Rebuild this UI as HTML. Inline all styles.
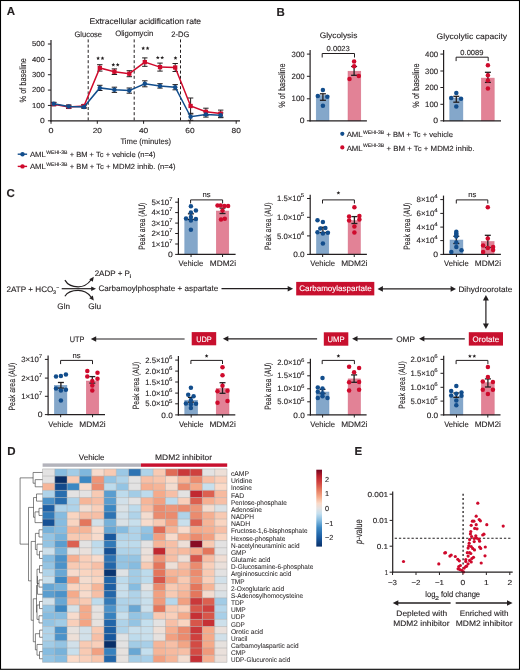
<!DOCTYPE html>
<html><head><meta charset="utf-8"><title>Figure</title>
<style>
html,body{margin:0;padding:0;background:#fff;}
body{width:520px;height:670px;overflow:hidden;font-family:"Liberation Sans", sans-serif;}
svg{display:block;will-change:transform;}
text{stroke:#231f20;stroke-width:0.12px;text-rendering:geometricPrecision;}
text[fill="#ffffff"]{stroke:#ffffff;}
</style></head>
<body>
<svg width="520" height="670" viewBox="0 0 520 670" font-family='"Liberation Sans", sans-serif' fill="#231f20"><text x="6.70" y="14.93" font-size="11.5" font-weight="bold">A</text>
<text x="89.45" y="23.80" font-size="8.3" textLength="111.70" lengthAdjust="spacingAndGlyphs">Extracellular acidification rate</text>
<text x="74.45" y="36.70" font-size="7.9" textLength="27.60" lengthAdjust="spacingAndGlyphs">Glucose</text>
<text x="115.15" y="36.00" font-size="7.9" textLength="38.20" lengthAdjust="spacingAndGlyphs">Oligomycin</text>
<text x="171.35" y="36.50" font-size="7.9" textLength="18.00" lengthAdjust="spacingAndGlyphs">2-DG</text>
<line x1="51.00" y1="40.00" x2="51.00" y2="121.40" stroke="#231f20" stroke-width="1.2"/>
<line x1="50.40" y1="120.80" x2="240.00" y2="120.80" stroke="#231f20" stroke-width="1.2"/>
<line x1="47.90" y1="120.80" x2="51.00" y2="120.80" stroke="#231f20" stroke-width="1.0"/>
<text x="40.00" y="123.20" font-size="7.3" textLength="4.75" lengthAdjust="spacingAndGlyphs">0</text>
<line x1="47.90" y1="105.44" x2="51.00" y2="105.44" stroke="#231f20" stroke-width="1.0"/>
<text x="31.90" y="107.84" font-size="7.3" textLength="12.85" lengthAdjust="spacingAndGlyphs">100</text>
<line x1="47.90" y1="90.08" x2="51.00" y2="90.08" stroke="#231f20" stroke-width="1.0"/>
<text x="31.90" y="92.48" font-size="7.3" textLength="12.85" lengthAdjust="spacingAndGlyphs">200</text>
<line x1="47.90" y1="74.72" x2="51.00" y2="74.72" stroke="#231f20" stroke-width="1.0"/>
<text x="31.90" y="77.12" font-size="7.3" textLength="12.85" lengthAdjust="spacingAndGlyphs">300</text>
<line x1="47.90" y1="59.36" x2="51.00" y2="59.36" stroke="#231f20" stroke-width="1.0"/>
<text x="31.90" y="61.76" font-size="7.3" textLength="12.85" lengthAdjust="spacingAndGlyphs">400</text>
<line x1="47.90" y1="44.00" x2="51.00" y2="44.00" stroke="#231f20" stroke-width="1.0"/>
<text x="31.90" y="46.40" font-size="7.3" textLength="12.85" lengthAdjust="spacingAndGlyphs">500</text>
<line x1="51.00" y1="120.80" x2="51.00" y2="123.80" stroke="#231f20" stroke-width="1.0"/>
<text x="48.50" y="133.00" font-size="7.3" textLength="5.00" lengthAdjust="spacingAndGlyphs">0</text>
<line x1="97.30" y1="120.80" x2="97.30" y2="123.80" stroke="#231f20" stroke-width="1.0"/>
<text x="92.65" y="133.00" font-size="7.3" textLength="9.30" lengthAdjust="spacingAndGlyphs">20</text>
<line x1="143.60" y1="120.80" x2="143.60" y2="123.80" stroke="#231f20" stroke-width="1.0"/>
<text x="138.95" y="133.00" font-size="7.3" textLength="9.30" lengthAdjust="spacingAndGlyphs">40</text>
<line x1="189.90" y1="120.80" x2="189.90" y2="123.80" stroke="#231f20" stroke-width="1.0"/>
<text x="185.25" y="133.00" font-size="7.3" textLength="9.30" lengthAdjust="spacingAndGlyphs">60</text>
<line x1="236.20" y1="120.80" x2="236.20" y2="123.80" stroke="#231f20" stroke-width="1.0"/>
<text x="231.55" y="133.00" font-size="7.3" textLength="9.30" lengthAdjust="spacingAndGlyphs">80</text>
<text x="120.45" y="144.20" font-size="8.0" textLength="50.70" lengthAdjust="spacingAndGlyphs">Time (minutes)</text>
<text transform="translate(26.30,80.30) rotate(-90)" x="0" y="0" font-size="9.2" text-anchor="middle" textLength="44.30" lengthAdjust="spacingAndGlyphs">% of baseline</text>
<line x1="88.20" y1="39.40" x2="88.20" y2="120.80" stroke="#231f20" stroke-width="1.0" stroke-dasharray="3,2.2"/>
<line x1="134.20" y1="39.40" x2="134.20" y2="120.80" stroke="#231f20" stroke-width="1.0" stroke-dasharray="3,2.2"/>
<line x1="180.50" y1="39.40" x2="180.50" y2="120.80" stroke="#231f20" stroke-width="1.0" stroke-dasharray="3,2.2"/>
<line x1="53.70" y1="102.70" x2="53.70" y2="105.70" stroke="#231f20" stroke-width="1.0"/>
<line x1="51.00" y1="102.70" x2="56.40" y2="102.70" stroke="#231f20" stroke-width="1.0"/>
<line x1="51.00" y1="105.70" x2="56.40" y2="105.70" stroke="#231f20" stroke-width="1.0"/>
<line x1="68.70" y1="105.40" x2="68.70" y2="108.40" stroke="#231f20" stroke-width="1.0"/>
<line x1="66.00" y1="105.40" x2="71.40" y2="105.40" stroke="#231f20" stroke-width="1.0"/>
<line x1="66.00" y1="108.40" x2="71.40" y2="108.40" stroke="#231f20" stroke-width="1.0"/>
<line x1="84.00" y1="104.50" x2="84.00" y2="107.50" stroke="#231f20" stroke-width="1.0"/>
<line x1="81.30" y1="104.50" x2="86.70" y2="104.50" stroke="#231f20" stroke-width="1.0"/>
<line x1="81.30" y1="107.50" x2="86.70" y2="107.50" stroke="#231f20" stroke-width="1.0"/>
<line x1="99.80" y1="64.70" x2="99.80" y2="71.10" stroke="#231f20" stroke-width="1.0"/>
<line x1="97.10" y1="64.70" x2="102.50" y2="64.70" stroke="#231f20" stroke-width="1.0"/>
<line x1="97.10" y1="71.10" x2="102.50" y2="71.10" stroke="#231f20" stroke-width="1.0"/>
<line x1="114.40" y1="68.90" x2="114.40" y2="74.50" stroke="#231f20" stroke-width="1.0"/>
<line x1="111.70" y1="68.90" x2="117.10" y2="68.90" stroke="#231f20" stroke-width="1.0"/>
<line x1="111.70" y1="74.50" x2="117.10" y2="74.50" stroke="#231f20" stroke-width="1.0"/>
<line x1="129.30" y1="70.70" x2="129.30" y2="76.70" stroke="#231f20" stroke-width="1.0"/>
<line x1="126.60" y1="70.70" x2="132.00" y2="70.70" stroke="#231f20" stroke-width="1.0"/>
<line x1="126.60" y1="76.70" x2="132.00" y2="76.70" stroke="#231f20" stroke-width="1.0"/>
<line x1="144.80" y1="57.90" x2="144.80" y2="66.30" stroke="#231f20" stroke-width="1.0"/>
<line x1="142.10" y1="57.90" x2="147.50" y2="57.90" stroke="#231f20" stroke-width="1.0"/>
<line x1="142.10" y1="66.30" x2="147.50" y2="66.30" stroke="#231f20" stroke-width="1.0"/>
<line x1="160.00" y1="63.10" x2="160.00" y2="71.10" stroke="#231f20" stroke-width="1.0"/>
<line x1="157.30" y1="63.10" x2="162.70" y2="63.10" stroke="#231f20" stroke-width="1.0"/>
<line x1="157.30" y1="71.10" x2="162.70" y2="71.10" stroke="#231f20" stroke-width="1.0"/>
<line x1="175.20" y1="63.50" x2="175.20" y2="71.50" stroke="#231f20" stroke-width="1.0"/>
<line x1="172.50" y1="63.50" x2="177.90" y2="63.50" stroke="#231f20" stroke-width="1.0"/>
<line x1="172.50" y1="71.50" x2="177.90" y2="71.50" stroke="#231f20" stroke-width="1.0"/>
<line x1="190.60" y1="98.00" x2="190.60" y2="114.00" stroke="#231f20" stroke-width="1.0"/>
<line x1="187.90" y1="98.00" x2="193.30" y2="98.00" stroke="#231f20" stroke-width="1.0"/>
<line x1="187.90" y1="114.00" x2="193.30" y2="114.00" stroke="#231f20" stroke-width="1.0"/>
<line x1="205.90" y1="108.20" x2="205.90" y2="115.40" stroke="#231f20" stroke-width="1.0"/>
<line x1="203.20" y1="108.20" x2="208.60" y2="108.20" stroke="#231f20" stroke-width="1.0"/>
<line x1="203.20" y1="115.40" x2="208.60" y2="115.40" stroke="#231f20" stroke-width="1.0"/>
<line x1="220.70" y1="110.10" x2="220.70" y2="117.10" stroke="#231f20" stroke-width="1.0"/>
<line x1="218.00" y1="110.10" x2="223.40" y2="110.10" stroke="#231f20" stroke-width="1.0"/>
<line x1="218.00" y1="117.10" x2="223.40" y2="117.10" stroke="#231f20" stroke-width="1.0"/>
<line x1="53.70" y1="102.30" x2="53.70" y2="105.30" stroke="#231f20" stroke-width="1.0"/>
<line x1="51.00" y1="102.30" x2="56.40" y2="102.30" stroke="#231f20" stroke-width="1.0"/>
<line x1="51.00" y1="105.30" x2="56.40" y2="105.30" stroke="#231f20" stroke-width="1.0"/>
<line x1="68.70" y1="105.00" x2="68.70" y2="108.00" stroke="#231f20" stroke-width="1.0"/>
<line x1="66.00" y1="105.00" x2="71.40" y2="105.00" stroke="#231f20" stroke-width="1.0"/>
<line x1="66.00" y1="108.00" x2="71.40" y2="108.00" stroke="#231f20" stroke-width="1.0"/>
<line x1="84.00" y1="105.40" x2="84.00" y2="108.40" stroke="#231f20" stroke-width="1.0"/>
<line x1="81.30" y1="105.40" x2="86.70" y2="105.40" stroke="#231f20" stroke-width="1.0"/>
<line x1="81.30" y1="108.40" x2="86.70" y2="108.40" stroke="#231f20" stroke-width="1.0"/>
<line x1="99.80" y1="85.30" x2="99.80" y2="90.50" stroke="#231f20" stroke-width="1.0"/>
<line x1="97.10" y1="85.30" x2="102.50" y2="85.30" stroke="#231f20" stroke-width="1.0"/>
<line x1="97.10" y1="90.50" x2="102.50" y2="90.50" stroke="#231f20" stroke-width="1.0"/>
<line x1="114.40" y1="87.20" x2="114.40" y2="92.40" stroke="#231f20" stroke-width="1.0"/>
<line x1="111.70" y1="87.20" x2="117.10" y2="87.20" stroke="#231f20" stroke-width="1.0"/>
<line x1="111.70" y1="92.40" x2="117.10" y2="92.40" stroke="#231f20" stroke-width="1.0"/>
<line x1="129.30" y1="88.00" x2="129.30" y2="93.20" stroke="#231f20" stroke-width="1.0"/>
<line x1="126.60" y1="88.00" x2="132.00" y2="88.00" stroke="#231f20" stroke-width="1.0"/>
<line x1="126.60" y1="93.20" x2="132.00" y2="93.20" stroke="#231f20" stroke-width="1.0"/>
<line x1="144.80" y1="80.80" x2="144.80" y2="86.80" stroke="#231f20" stroke-width="1.0"/>
<line x1="142.10" y1="80.80" x2="147.50" y2="80.80" stroke="#231f20" stroke-width="1.0"/>
<line x1="142.10" y1="86.80" x2="147.50" y2="86.80" stroke="#231f20" stroke-width="1.0"/>
<line x1="160.00" y1="83.70" x2="160.00" y2="88.10" stroke="#231f20" stroke-width="1.0"/>
<line x1="157.30" y1="83.70" x2="162.70" y2="83.70" stroke="#231f20" stroke-width="1.0"/>
<line x1="157.30" y1="88.10" x2="162.70" y2="88.10" stroke="#231f20" stroke-width="1.0"/>
<line x1="175.20" y1="84.60" x2="175.20" y2="89.80" stroke="#231f20" stroke-width="1.0"/>
<line x1="172.50" y1="84.60" x2="177.90" y2="84.60" stroke="#231f20" stroke-width="1.0"/>
<line x1="172.50" y1="89.80" x2="177.90" y2="89.80" stroke="#231f20" stroke-width="1.0"/>
<line x1="190.60" y1="113.30" x2="190.60" y2="120.30" stroke="#231f20" stroke-width="1.0"/>
<line x1="187.90" y1="113.30" x2="193.30" y2="113.30" stroke="#231f20" stroke-width="1.0"/>
<line x1="187.90" y1="120.30" x2="193.30" y2="120.30" stroke="#231f20" stroke-width="1.0"/>
<line x1="205.90" y1="111.90" x2="205.90" y2="117.10" stroke="#231f20" stroke-width="1.0"/>
<line x1="203.20" y1="111.90" x2="208.60" y2="111.90" stroke="#231f20" stroke-width="1.0"/>
<line x1="203.20" y1="117.10" x2="208.60" y2="117.10" stroke="#231f20" stroke-width="1.0"/>
<line x1="220.70" y1="112.90" x2="220.70" y2="117.70" stroke="#231f20" stroke-width="1.0"/>
<line x1="218.00" y1="112.90" x2="223.40" y2="112.90" stroke="#231f20" stroke-width="1.0"/>
<line x1="218.00" y1="117.70" x2="223.40" y2="117.70" stroke="#231f20" stroke-width="1.0"/>
<path d="M53.70,104.20 L68.70,106.90 L84.00,106.00 L99.80,67.90 L114.40,71.70 L129.30,73.70 L144.80,62.10 L160.00,67.10 L175.20,67.50 L190.60,106.00 L205.90,111.80 L220.70,113.60" stroke="#cf0a2c" stroke-width="1.5" fill="none"/>
<rect x="51.55" y="102.05" width="4.30" height="4.30" fill="#cf0a2c"/>
<rect x="66.55" y="104.75" width="4.30" height="4.30" fill="#cf0a2c"/>
<rect x="81.85" y="103.85" width="4.30" height="4.30" fill="#cf0a2c"/>
<rect x="97.65" y="65.75" width="4.30" height="4.30" fill="#cf0a2c"/>
<rect x="112.25" y="69.55" width="4.30" height="4.30" fill="#cf0a2c"/>
<rect x="127.15" y="71.55" width="4.30" height="4.30" fill="#cf0a2c"/>
<rect x="142.65" y="59.95" width="4.30" height="4.30" fill="#cf0a2c"/>
<rect x="157.85" y="64.95" width="4.30" height="4.30" fill="#cf0a2c"/>
<rect x="173.05" y="65.35" width="4.30" height="4.30" fill="#cf0a2c"/>
<rect x="188.45" y="103.85" width="4.30" height="4.30" fill="#cf0a2c"/>
<rect x="203.75" y="109.65" width="4.30" height="4.30" fill="#cf0a2c"/>
<rect x="218.55" y="111.45" width="4.30" height="4.30" fill="#cf0a2c"/>
<path d="M53.70,103.80 L68.70,106.50 L84.00,106.90 L99.80,87.90 L114.40,89.80 L129.30,90.60 L144.80,83.80 L160.00,85.90 L175.20,87.20 L190.60,116.80 L205.90,114.50 L220.70,115.30" stroke="#124d8c" stroke-width="1.5" fill="none"/>
<circle cx="53.70" cy="103.80" r="2.25" fill="#124d8c"/>
<circle cx="68.70" cy="106.50" r="2.25" fill="#124d8c"/>
<circle cx="84.00" cy="106.90" r="2.25" fill="#124d8c"/>
<circle cx="99.80" cy="87.90" r="2.25" fill="#124d8c"/>
<circle cx="114.40" cy="89.80" r="2.25" fill="#124d8c"/>
<circle cx="129.30" cy="90.60" r="2.25" fill="#124d8c"/>
<circle cx="144.80" cy="83.80" r="2.25" fill="#124d8c"/>
<circle cx="160.00" cy="85.90" r="2.25" fill="#124d8c"/>
<circle cx="175.20" cy="87.20" r="2.25" fill="#124d8c"/>
<circle cx="190.60" cy="116.80" r="2.25" fill="#124d8c"/>
<circle cx="205.90" cy="114.50" r="2.25" fill="#124d8c"/>
<circle cx="220.70" cy="115.30" r="2.25" fill="#124d8c"/>
<polygon points="98.10,56.30 98.63,57.57 100.00,57.68 98.96,58.58 99.28,59.92 98.10,59.20 96.92,59.92 97.24,58.58 96.20,57.68 97.57,57.57" fill="#231f20"/>
<polygon points="102.50,56.30 103.03,57.57 104.40,57.68 103.36,58.58 103.68,59.92 102.50,59.20 101.32,59.92 101.64,58.58 100.60,57.68 101.97,57.57" fill="#231f20"/>
<polygon points="113.30,62.80 113.83,64.07 115.20,64.18 114.16,65.08 114.48,66.42 113.30,65.70 112.12,66.42 112.44,65.08 111.40,64.18 112.77,64.07" fill="#231f20"/>
<polygon points="117.70,62.80 118.23,64.07 119.60,64.18 118.56,65.08 118.88,66.42 117.70,65.70 116.52,66.42 116.84,65.08 115.80,64.18 117.17,64.07" fill="#231f20"/>
<polygon points="143.20,46.30 143.73,47.57 145.10,47.68 144.06,48.58 144.38,49.92 143.20,49.20 142.02,49.92 142.34,48.58 141.30,47.68 142.67,47.57" fill="#231f20"/>
<polygon points="147.60,46.30 148.13,47.57 149.50,47.68 148.46,48.58 148.78,49.92 147.60,49.20 146.42,49.92 146.74,48.58 145.70,47.68 147.07,47.57" fill="#231f20"/>
<polygon points="157.80,55.70 158.33,56.97 159.70,57.08 158.66,57.98 158.98,59.32 157.80,58.60 156.62,59.32 156.94,57.98 155.90,57.08 157.27,56.97" fill="#231f20"/>
<polygon points="162.20,55.70 162.73,56.97 164.10,57.08 163.06,57.98 163.38,59.32 162.20,58.60 161.02,59.32 161.34,57.98 160.30,57.08 161.67,56.97" fill="#231f20"/>
<polygon points="175.50,56.10 176.03,57.37 177.40,57.48 176.36,58.38 176.68,59.72 175.50,59.00 174.32,59.72 174.64,58.38 173.60,57.48 174.97,57.37" fill="#231f20"/>
<line x1="17.70" y1="154.20" x2="27.10" y2="154.20" stroke="#124d8c" stroke-width="1.4"/>
<circle cx="22.50" cy="154.20" r="2.2" fill="#124d8c"/>
<text x="29.90" y="157.20" font-size="7.4" textLength="16.0" lengthAdjust="spacingAndGlyphs">AML</text>
<text x="46.20" y="154.00" font-size="5.2" textLength="21.2" lengthAdjust="spacingAndGlyphs">WEHI-3B</text>
<text x="67.60" y="157.20" font-size="7.4" textLength="88.00" lengthAdjust="spacingAndGlyphs" xml:space="preserve"> + BM + Tc + vehicle (n=4)</text>
<line x1="17.70" y1="166.40" x2="27.10" y2="166.40" stroke="#cf0a2c" stroke-width="1.4"/>
<circle cx="22.50" cy="166.40" r="2.2" fill="#cf0a2c"/>
<text x="29.90" y="169.40" font-size="7.4" textLength="16.0" lengthAdjust="spacingAndGlyphs">AML</text>
<text x="46.20" y="166.20" font-size="5.2" textLength="21.2" lengthAdjust="spacingAndGlyphs">WEHI-3B</text>
<text x="67.60" y="169.40" font-size="7.4" textLength="108.00" lengthAdjust="spacingAndGlyphs" xml:space="preserve"> + BM + Tc + MDM2 inhib. (n=4)</text>
<text x="276.60" y="15.54" font-size="11.5" font-weight="bold">B</text>
<text x="319.65" y="38.10" font-size="8.0" textLength="37.70" lengthAdjust="spacingAndGlyphs">Glycolysis</text>
<text x="436.55" y="38.60" font-size="8.0" textLength="70.60" lengthAdjust="spacingAndGlyphs">Glycolytic capacity</text>
<rect x="316.20" y="95.50" width="12.80" height="25.30" fill="#84a7ca" stroke="#7399c2" stroke-width="0.5"/>
<rect x="348.00" y="71.20" width="12.80" height="49.60" fill="#e28296" stroke="#d86f86" stroke-width="0.5"/>
<line x1="310.10" y1="50.10" x2="310.10" y2="121.40" stroke="#231f20" stroke-width="1.2"/>
<line x1="309.50" y1="120.80" x2="366.90" y2="120.80" stroke="#231f20" stroke-width="1.2"/>
<line x1="306.90" y1="54.10" x2="310.10" y2="54.10" stroke="#231f20" stroke-width="1.0"/>
<text x="291.55" y="56.70" font-size="7.8" textLength="13.00" lengthAdjust="spacingAndGlyphs">300</text>
<line x1="306.90" y1="76.30" x2="310.10" y2="76.30" stroke="#231f20" stroke-width="1.0"/>
<text x="291.55" y="78.90" font-size="7.8" textLength="13.00" lengthAdjust="spacingAndGlyphs">200</text>
<line x1="306.90" y1="98.80" x2="310.10" y2="98.80" stroke="#231f20" stroke-width="1.0"/>
<text x="291.55" y="101.40" font-size="7.8" textLength="13.00" lengthAdjust="spacingAndGlyphs">100</text>
<line x1="306.90" y1="120.80" x2="310.10" y2="120.80" stroke="#231f20" stroke-width="1.0"/>
<text x="299.75" y="123.40" font-size="7.8" textLength="4.80" lengthAdjust="spacingAndGlyphs">0</text>
<line x1="322.90" y1="93.80" x2="322.90" y2="100.30" stroke="#231f20" stroke-width="1.3"/>
<line x1="319.90" y1="93.80" x2="325.90" y2="93.80" stroke="#231f20" stroke-width="1.3"/>
<line x1="319.90" y1="100.30" x2="325.90" y2="100.30" stroke="#231f20" stroke-width="1.3"/>
<line x1="354.10" y1="66.50" x2="354.10" y2="75.30" stroke="#231f20" stroke-width="1.3"/>
<line x1="351.10" y1="66.50" x2="357.10" y2="66.50" stroke="#231f20" stroke-width="1.3"/>
<line x1="351.10" y1="75.30" x2="357.10" y2="75.30" stroke="#231f20" stroke-width="1.3"/>
<circle cx="322.90" cy="90.10" r="2.25" fill="#124d8c"/>
<circle cx="317.80" cy="96.10" r="2.25" fill="#124d8c"/>
<circle cx="327.30" cy="96.80" r="2.25" fill="#124d8c"/>
<circle cx="322.90" cy="105.70" r="2.25" fill="#124d8c"/>
<circle cx="354.10" cy="61.50" r="2.25" fill="#cf0a2c"/>
<circle cx="354.10" cy="66.20" r="2.25" fill="#cf0a2c"/>
<circle cx="349.50" cy="79.00" r="2.25" fill="#cf0a2c"/>
<circle cx="358.80" cy="76.10" r="2.25" fill="#cf0a2c"/>
<path d="M322.20,57.50 V53.50 H354.50 V57.50" stroke="#231f20" stroke-width="1.0" fill="none"/>
<text x="326.55" y="50.80" font-size="7.3" textLength="23.30" lengthAdjust="spacingAndGlyphs">0.0023</text>
<text transform="translate(284.80,85.65) rotate(-90)" x="0" y="0" font-size="9.2" text-anchor="middle" textLength="44.30" lengthAdjust="spacingAndGlyphs">% of baseline</text>
<rect x="449.80" y="98.00" width="13.10" height="22.80" fill="#84a7ca" stroke="#7399c2" stroke-width="0.5"/>
<rect x="481.40" y="78.10" width="12.80" height="42.70" fill="#e28296" stroke="#d86f86" stroke-width="0.5"/>
<line x1="443.60" y1="50.10" x2="443.60" y2="121.40" stroke="#231f20" stroke-width="1.2"/>
<line x1="443.00" y1="120.80" x2="501.00" y2="120.80" stroke="#231f20" stroke-width="1.2"/>
<line x1="440.40" y1="54.10" x2="443.60" y2="54.10" stroke="#231f20" stroke-width="1.0"/>
<text x="425.05" y="56.70" font-size="7.8" textLength="13.00" lengthAdjust="spacingAndGlyphs">400</text>
<line x1="440.40" y1="71.00" x2="443.60" y2="71.00" stroke="#231f20" stroke-width="1.0"/>
<text x="425.05" y="73.60" font-size="7.8" textLength="13.00" lengthAdjust="spacingAndGlyphs">300</text>
<line x1="440.40" y1="87.50" x2="443.60" y2="87.50" stroke="#231f20" stroke-width="1.0"/>
<text x="425.05" y="90.10" font-size="7.8" textLength="13.00" lengthAdjust="spacingAndGlyphs">200</text>
<line x1="440.40" y1="104.30" x2="443.60" y2="104.30" stroke="#231f20" stroke-width="1.0"/>
<text x="425.05" y="106.90" font-size="7.8" textLength="13.00" lengthAdjust="spacingAndGlyphs">100</text>
<line x1="440.40" y1="120.80" x2="443.60" y2="120.80" stroke="#231f20" stroke-width="1.0"/>
<text x="433.25" y="123.40" font-size="7.8" textLength="4.80" lengthAdjust="spacingAndGlyphs">0</text>
<line x1="456.30" y1="96.30" x2="456.30" y2="102.20" stroke="#231f20" stroke-width="1.3"/>
<line x1="453.30" y1="96.30" x2="459.30" y2="96.30" stroke="#231f20" stroke-width="1.3"/>
<line x1="453.30" y1="102.20" x2="459.30" y2="102.20" stroke="#231f20" stroke-width="1.3"/>
<line x1="487.90" y1="72.30" x2="487.90" y2="82.40" stroke="#231f20" stroke-width="1.3"/>
<line x1="484.90" y1="72.30" x2="490.90" y2="72.30" stroke="#231f20" stroke-width="1.3"/>
<line x1="484.90" y1="82.40" x2="490.90" y2="82.40" stroke="#231f20" stroke-width="1.3"/>
<circle cx="456.30" cy="92.90" r="2.25" fill="#124d8c"/>
<circle cx="451.20" cy="98.10" r="2.25" fill="#124d8c"/>
<circle cx="461.00" cy="98.80" r="2.25" fill="#124d8c"/>
<circle cx="456.30" cy="106.60" r="2.25" fill="#124d8c"/>
<circle cx="487.90" cy="65.20" r="2.25" fill="#cf0a2c"/>
<circle cx="487.90" cy="75.30" r="2.25" fill="#cf0a2c"/>
<circle cx="487.90" cy="80.60" r="2.25" fill="#cf0a2c"/>
<circle cx="487.90" cy="88.50" r="2.25" fill="#cf0a2c"/>
<path d="M456.10,61.10 V57.20 H488.20 V61.10" stroke="#231f20" stroke-width="1.0" fill="none"/>
<text x="460.35" y="54.60" font-size="7.3" textLength="23.10" lengthAdjust="spacingAndGlyphs">0.0089</text>
<text transform="translate(419.20,85.60) rotate(-90)" x="0" y="0" font-size="9.2" text-anchor="middle" textLength="44.20" lengthAdjust="spacingAndGlyphs">% of baseline</text>
<circle cx="342.30" cy="133.80" r="2.1" fill="#124d8c"/>
<text x="346.70" y="136.90" font-size="7.4" textLength="16.0" lengthAdjust="spacingAndGlyphs">AML</text>
<text x="363.00" y="133.70" font-size="5.2" textLength="21.2" lengthAdjust="spacingAndGlyphs">WEHI-3B</text>
<text x="384.40" y="136.90" font-size="7.4" textLength="68.50" lengthAdjust="spacingAndGlyphs" xml:space="preserve"> + BM + Tc + vehicle</text>
<circle cx="342.30" cy="147.40" r="2.1" fill="#cf0a2c"/>
<text x="346.70" y="150.50" font-size="7.4" textLength="16.0" lengthAdjust="spacingAndGlyphs">AML</text>
<text x="363.00" y="147.30" font-size="5.2" textLength="21.2" lengthAdjust="spacingAndGlyphs">WEHI-3B</text>
<text x="384.40" y="150.50" font-size="7.4" textLength="90.20" lengthAdjust="spacingAndGlyphs" xml:space="preserve"> + BM + Tc + MDM2 inhib.</text>
<text x="6.60" y="197.13" font-size="11.5" font-weight="bold">C</text>
<rect x="184.80" y="219.40" width="12.50" height="35.00" fill="#84a7ca" stroke="#7399c2" stroke-width="0.5"/>
<rect x="216.30" y="211.00" width="12.50" height="43.40" fill="#e28296" stroke="#d86f86" stroke-width="0.5"/>
<line x1="178.40" y1="198.00" x2="178.40" y2="255.00" stroke="#231f20" stroke-width="1.2"/>
<line x1="177.80" y1="254.40" x2="235.60" y2="254.40" stroke="#231f20" stroke-width="1.2"/>
<line x1="175.20" y1="202.20" x2="178.40" y2="202.20" stroke="#231f20" stroke-width="1.0"/>
<text x="151.45" y="204.80" font-size="7.8" textLength="17.70" lengthAdjust="spacingAndGlyphs">5×10</text>
<text x="169.05" y="201.00" font-size="5.4" textLength="3.40" lengthAdjust="spacingAndGlyphs">7</text>
<line x1="175.20" y1="212.60" x2="178.40" y2="212.60" stroke="#231f20" stroke-width="1.0"/>
<text x="151.45" y="215.20" font-size="7.8" textLength="17.70" lengthAdjust="spacingAndGlyphs">4×10</text>
<text x="169.05" y="211.40" font-size="5.4" textLength="3.40" lengthAdjust="spacingAndGlyphs">7</text>
<line x1="175.20" y1="223.10" x2="178.40" y2="223.10" stroke="#231f20" stroke-width="1.0"/>
<text x="151.45" y="225.70" font-size="7.8" textLength="17.70" lengthAdjust="spacingAndGlyphs">3×10</text>
<text x="169.05" y="221.90" font-size="5.4" textLength="3.40" lengthAdjust="spacingAndGlyphs">7</text>
<line x1="175.20" y1="233.50" x2="178.40" y2="233.50" stroke="#231f20" stroke-width="1.0"/>
<text x="151.45" y="236.10" font-size="7.8" textLength="17.70" lengthAdjust="spacingAndGlyphs">2×10</text>
<text x="169.05" y="232.30" font-size="5.4" textLength="3.40" lengthAdjust="spacingAndGlyphs">7</text>
<line x1="175.20" y1="244.00" x2="178.40" y2="244.00" stroke="#231f20" stroke-width="1.0"/>
<text x="151.45" y="246.60" font-size="7.8" textLength="17.70" lengthAdjust="spacingAndGlyphs">1×10</text>
<text x="169.05" y="242.80" font-size="5.4" textLength="3.40" lengthAdjust="spacingAndGlyphs">7</text>
<line x1="175.20" y1="254.40" x2="178.40" y2="254.40" stroke="#231f20" stroke-width="1.0"/>
<text x="168.05" y="257.00" font-size="7.8" textLength="4.80" lengthAdjust="spacingAndGlyphs">0</text>
<line x1="191.05" y1="254.40" x2="191.05" y2="257.00" stroke="#231f20" stroke-width="1.0"/>
<line x1="222.55" y1="254.40" x2="222.55" y2="257.00" stroke="#231f20" stroke-width="1.0"/>
<line x1="190.90" y1="213.80" x2="190.90" y2="219.40" stroke="#231f20" stroke-width="1.3"/>
<line x1="187.90" y1="213.80" x2="193.90" y2="213.80" stroke="#231f20" stroke-width="1.3"/>
<line x1="187.90" y1="219.40" x2="193.90" y2="219.40" stroke="#231f20" stroke-width="1.3"/>
<line x1="222.50" y1="208.10" x2="222.50" y2="213.50" stroke="#231f20" stroke-width="1.3"/>
<line x1="219.50" y1="208.10" x2="225.50" y2="208.10" stroke="#231f20" stroke-width="1.3"/>
<line x1="219.50" y1="213.50" x2="225.50" y2="213.50" stroke="#231f20" stroke-width="1.3"/>
<circle cx="190.90" cy="206.30" r="2.25" fill="#124d8c"/>
<circle cx="195.90" cy="210.60" r="2.25" fill="#124d8c"/>
<circle cx="190.90" cy="212.50" r="2.25" fill="#124d8c"/>
<circle cx="190.90" cy="216.90" r="2.25" fill="#124d8c"/>
<circle cx="186.00" cy="218.40" r="2.25" fill="#124d8c"/>
<circle cx="195.90" cy="219.00" r="2.25" fill="#124d8c"/>
<circle cx="190.90" cy="220.40" r="2.25" fill="#124d8c"/>
<circle cx="190.90" cy="229.80" r="2.25" fill="#124d8c"/>
<circle cx="217.50" cy="205.60" r="2.25" fill="#cf0a2c"/>
<circle cx="220.60" cy="205.60" r="2.25" fill="#cf0a2c"/>
<circle cx="224.40" cy="205.90" r="2.25" fill="#cf0a2c"/>
<circle cx="228.10" cy="206.00" r="2.25" fill="#cf0a2c"/>
<circle cx="222.50" cy="210.60" r="2.25" fill="#cf0a2c"/>
<circle cx="221.00" cy="219.60" r="2.25" fill="#cf0a2c"/>
<circle cx="224.80" cy="218.80" r="2.25" fill="#cf0a2c"/>
<path d="M190.60,203.40 V199.90 H222.60 V203.40" stroke="#231f20" stroke-width="1.0" fill="none"/>
<text x="202.55" y="196.90" font-size="7.4" textLength="8.10" lengthAdjust="spacingAndGlyphs">ns</text>
<text transform="translate(144.90,226.20) rotate(-90)" x="0" y="0" font-size="9.2" text-anchor="middle" textLength="47.20" lengthAdjust="spacingAndGlyphs">Peak area (AU)</text>
<text x="178.60" y="266.30" font-size="8.0" textLength="24.60" lengthAdjust="spacingAndGlyphs">Vehicle</text>
<text x="209.75" y="266.30" font-size="8.0" textLength="26.30" lengthAdjust="spacingAndGlyphs">MDM2i</text>
<rect x="316.50" y="232.50" width="12.30" height="21.90" fill="#84a7ca" stroke="#7399c2" stroke-width="0.5"/>
<rect x="348.10" y="220.60" width="12.30" height="33.80" fill="#e28296" stroke="#d86f86" stroke-width="0.5"/>
<line x1="310.20" y1="194.80" x2="310.20" y2="255.00" stroke="#231f20" stroke-width="1.2"/>
<line x1="309.60" y1="254.40" x2="366.90" y2="254.40" stroke="#231f20" stroke-width="1.2"/>
<line x1="307.00" y1="198.50" x2="310.20" y2="198.50" stroke="#231f20" stroke-width="1.0"/>
<text x="277.05" y="201.10" font-size="7.8" textLength="23.90" lengthAdjust="spacingAndGlyphs">1.5×10</text>
<text x="300.85" y="197.30" font-size="5.4" textLength="3.40" lengthAdjust="spacingAndGlyphs">5</text>
<line x1="307.00" y1="217.30" x2="310.20" y2="217.30" stroke="#231f20" stroke-width="1.0"/>
<text x="277.05" y="219.90" font-size="7.8" textLength="23.90" lengthAdjust="spacingAndGlyphs">1.0×10</text>
<text x="300.85" y="216.10" font-size="5.4" textLength="3.40" lengthAdjust="spacingAndGlyphs">5</text>
<line x1="307.00" y1="235.90" x2="310.20" y2="235.90" stroke="#231f20" stroke-width="1.0"/>
<text x="277.05" y="238.50" font-size="7.8" textLength="23.90" lengthAdjust="spacingAndGlyphs">5.0×10</text>
<text x="300.85" y="234.70" font-size="5.4" textLength="3.40" lengthAdjust="spacingAndGlyphs">4</text>
<line x1="307.00" y1="254.40" x2="310.20" y2="254.40" stroke="#231f20" stroke-width="1.0"/>
<text x="293.15" y="257.00" font-size="7.8" textLength="11.50" lengthAdjust="spacingAndGlyphs">0.0</text>
<line x1="322.65" y1="254.40" x2="322.65" y2="257.00" stroke="#231f20" stroke-width="1.0"/>
<line x1="354.25" y1="254.40" x2="354.25" y2="257.00" stroke="#231f20" stroke-width="1.0"/>
<line x1="322.90" y1="227.30" x2="322.90" y2="232.50" stroke="#231f20" stroke-width="1.3"/>
<line x1="319.90" y1="227.30" x2="325.90" y2="227.30" stroke="#231f20" stroke-width="1.3"/>
<line x1="319.90" y1="232.50" x2="325.90" y2="232.50" stroke="#231f20" stroke-width="1.3"/>
<line x1="354.40" y1="216.60" x2="354.40" y2="223.50" stroke="#231f20" stroke-width="1.3"/>
<line x1="351.40" y1="216.60" x2="357.40" y2="216.60" stroke="#231f20" stroke-width="1.3"/>
<line x1="351.40" y1="223.50" x2="357.40" y2="223.50" stroke="#231f20" stroke-width="1.3"/>
<circle cx="317.50" cy="220.30" r="2.25" fill="#124d8c"/>
<circle cx="322.90" cy="221.90" r="2.25" fill="#124d8c"/>
<circle cx="320.30" cy="228.40" r="2.25" fill="#124d8c"/>
<circle cx="325.40" cy="227.90" r="2.25" fill="#124d8c"/>
<circle cx="317.50" cy="232.30" r="2.25" fill="#124d8c"/>
<circle cx="322.90" cy="233.40" r="2.25" fill="#124d8c"/>
<circle cx="327.90" cy="232.80" r="2.25" fill="#124d8c"/>
<circle cx="322.90" cy="243.40" r="2.25" fill="#124d8c"/>
<circle cx="354.40" cy="207.30" r="2.25" fill="#cf0a2c"/>
<circle cx="349.10" cy="216.60" r="2.25" fill="#cf0a2c"/>
<circle cx="359.40" cy="215.90" r="2.25" fill="#cf0a2c"/>
<circle cx="349.10" cy="220.40" r="2.25" fill="#cf0a2c"/>
<circle cx="359.40" cy="219.60" r="2.25" fill="#cf0a2c"/>
<circle cx="354.40" cy="226.50" r="2.25" fill="#cf0a2c"/>
<circle cx="354.40" cy="232.50" r="2.25" fill="#cf0a2c"/>
<path d="M322.50,203.50 V199.90 H354.40 V203.50" stroke="#231f20" stroke-width="1.0" fill="none"/>
<polygon points="338.40,190.90 338.93,192.17 340.30,192.28 339.26,193.18 339.58,194.52 338.40,193.80 337.22,194.52 337.54,193.18 336.50,192.28 337.87,192.17" fill="#231f20"/>
<text transform="translate(270.60,226.30) rotate(-90)" x="0" y="0" font-size="9.2" text-anchor="middle" textLength="47.50" lengthAdjust="spacingAndGlyphs">Peak area (AU)</text>
<text x="310.30" y="266.30" font-size="8.0" textLength="24.60" lengthAdjust="spacingAndGlyphs">Vehicle</text>
<text x="341.15" y="266.30" font-size="8.0" textLength="26.30" lengthAdjust="spacingAndGlyphs">MDM2i</text>
<rect x="450.00" y="240.00" width="12.90" height="14.40" fill="#84a7ca" stroke="#7399c2" stroke-width="0.5"/>
<rect x="481.30" y="241.50" width="12.80" height="12.90" fill="#e28296" stroke="#d86f86" stroke-width="0.5"/>
<line x1="443.50" y1="195.60" x2="443.50" y2="255.00" stroke="#231f20" stroke-width="1.2"/>
<line x1="442.90" y1="254.40" x2="500.90" y2="254.40" stroke="#231f20" stroke-width="1.2"/>
<line x1="440.30" y1="199.60" x2="443.50" y2="199.60" stroke="#231f20" stroke-width="1.0"/>
<text x="416.55" y="202.20" font-size="7.8" textLength="17.70" lengthAdjust="spacingAndGlyphs">8×10</text>
<text x="434.15" y="198.40" font-size="5.4" textLength="3.40" lengthAdjust="spacingAndGlyphs">4</text>
<line x1="440.30" y1="213.40" x2="443.50" y2="213.40" stroke="#231f20" stroke-width="1.0"/>
<text x="416.55" y="216.00" font-size="7.8" textLength="17.70" lengthAdjust="spacingAndGlyphs">6×10</text>
<text x="434.15" y="212.20" font-size="5.4" textLength="3.40" lengthAdjust="spacingAndGlyphs">4</text>
<line x1="440.30" y1="227.10" x2="443.50" y2="227.10" stroke="#231f20" stroke-width="1.0"/>
<text x="416.55" y="229.70" font-size="7.8" textLength="17.70" lengthAdjust="spacingAndGlyphs">4×10</text>
<text x="434.15" y="225.90" font-size="5.4" textLength="3.40" lengthAdjust="spacingAndGlyphs">4</text>
<line x1="440.30" y1="240.60" x2="443.50" y2="240.60" stroke="#231f20" stroke-width="1.0"/>
<text x="416.55" y="243.20" font-size="7.8" textLength="17.70" lengthAdjust="spacingAndGlyphs">4×10</text>
<text x="434.15" y="239.40" font-size="5.4" textLength="3.40" lengthAdjust="spacingAndGlyphs">4</text>
<line x1="440.30" y1="254.40" x2="443.50" y2="254.40" stroke="#231f20" stroke-width="1.0"/>
<text x="433.15" y="257.00" font-size="7.8" textLength="4.80" lengthAdjust="spacingAndGlyphs">0</text>
<line x1="456.45" y1="254.40" x2="456.45" y2="257.00" stroke="#231f20" stroke-width="1.0"/>
<line x1="487.70" y1="254.40" x2="487.70" y2="257.00" stroke="#231f20" stroke-width="1.0"/>
<line x1="456.30" y1="236.30" x2="456.30" y2="243.50" stroke="#231f20" stroke-width="1.3"/>
<line x1="453.30" y1="236.30" x2="459.30" y2="236.30" stroke="#231f20" stroke-width="1.3"/>
<line x1="453.30" y1="243.50" x2="459.30" y2="243.50" stroke="#231f20" stroke-width="1.3"/>
<line x1="487.80" y1="235.30" x2="487.80" y2="247.50" stroke="#231f20" stroke-width="1.3"/>
<line x1="484.80" y1="235.30" x2="490.80" y2="235.30" stroke="#231f20" stroke-width="1.3"/>
<line x1="484.80" y1="247.50" x2="490.80" y2="247.50" stroke="#231f20" stroke-width="1.3"/>
<circle cx="456.30" cy="231.80" r="2.25" fill="#124d8c"/>
<circle cx="456.30" cy="233.40" r="2.25" fill="#124d8c"/>
<circle cx="456.30" cy="235.00" r="2.25" fill="#124d8c"/>
<circle cx="456.30" cy="236.40" r="2.25" fill="#124d8c"/>
<circle cx="456.30" cy="242.40" r="2.25" fill="#124d8c"/>
<circle cx="456.30" cy="247.00" r="2.25" fill="#124d8c"/>
<circle cx="451.30" cy="252.10" r="2.25" fill="#124d8c"/>
<circle cx="461.50" cy="250.30" r="2.25" fill="#124d8c"/>
<circle cx="487.80" cy="207.30" r="2.25" fill="#cf0a2c"/>
<circle cx="487.80" cy="238.40" r="2.25" fill="#cf0a2c"/>
<circle cx="483.10" cy="245.60" r="2.25" fill="#cf0a2c"/>
<circle cx="493.10" cy="246.90" r="2.25" fill="#cf0a2c"/>
<circle cx="487.80" cy="248.10" r="2.25" fill="#cf0a2c"/>
<circle cx="493.10" cy="250.00" r="2.25" fill="#cf0a2c"/>
<circle cx="483.10" cy="251.90" r="2.25" fill="#cf0a2c"/>
<path d="M456.30,203.50 V199.90 H487.80 V203.50" stroke="#231f20" stroke-width="1.0" fill="none"/>
<text x="468.25" y="196.90" font-size="7.4" textLength="8.10" lengthAdjust="spacingAndGlyphs">ns</text>
<text transform="translate(410.20,226.20) rotate(-90)" x="0" y="0" font-size="9.2" text-anchor="middle" textLength="47.20" lengthAdjust="spacingAndGlyphs">Peak area (AU)</text>
<text x="444.10" y="266.30" font-size="8.0" textLength="24.60" lengthAdjust="spacingAndGlyphs">Vehicle</text>
<text x="474.75" y="266.30" font-size="8.0" textLength="26.30" lengthAdjust="spacingAndGlyphs">MDM2i</text>
<text x="6.55" y="292.00" font-size="8.0" textLength="46.80" lengthAdjust="spacingAndGlyphs">2ATP + HCO</text>
<text x="53.05" y="294.30" font-size="5.2" textLength="3.00" lengthAdjust="spacingAndGlyphs">3</text>
<text x="56.15" y="289.00" font-size="5.2" textLength="3.00" lengthAdjust="spacingAndGlyphs">−</text>
<line x1="61.70" y1="288.70" x2="92.00" y2="288.70" stroke="#231f20" stroke-width="1.2"/>
<polygon points="96.00,288.70 91.20,291.00 91.20,286.40" fill="#231f20"/>
<path d="M64.9,280.1 C68,285.5 74,286.8 78.2,286.8 C84,286.8 88,284 91.0,280.0" stroke="#231f20" stroke-width="1.2" fill="none"/>
<polygon points="93.80,276.80 92.80,281.80 89.28,279.16" fill="#231f20"/>
<path d="M64.9,296.2 C68,291.0 74,290.4 78.2,290.4 C84,290.4 88,293 91.0,297.0" stroke="#231f20" stroke-width="1.2" fill="none"/>
<polygon points="93.80,300.60 89.28,298.24 92.80,295.60" fill="#231f20"/>
<text x="94.65" y="275.60" font-size="8.0" textLength="35.30" lengthAdjust="spacingAndGlyphs">2ADP + P</text>
<text x="129.55" y="277.60" font-size="5.2" textLength="1.70" lengthAdjust="spacingAndGlyphs">i</text>
<text x="57.35" y="309.40" font-size="8.0" textLength="12.60" lengthAdjust="spacingAndGlyphs">Gln</text>
<text x="88.25" y="309.40" font-size="8.0" textLength="12.90" lengthAdjust="spacingAndGlyphs">Glu</text>
<text x="98.45" y="291.20" font-size="8.0" textLength="119.90" lengthAdjust="spacingAndGlyphs">Carbamoylphosphate + aspartate</text>
<line x1="221.50" y1="288.70" x2="289.00" y2="288.70" stroke="#231f20" stroke-width="1.3"/>
<polygon points="293.10,288.70 287.70,291.50 287.70,285.90" fill="#231f20"/>
<rect x="296.20" y="281.90" width="78.10" height="13.50" fill="#c8102e"/>
<text x="299.25" y="291.00" font-size="8.0" textLength="72.40" lengthAdjust="spacingAndGlyphs" fill="#ffffff">Carbamoylaspartate</text>
<line x1="381.00" y1="288.90" x2="452.50" y2="288.90" stroke="#231f20" stroke-width="1.3"/>
<polygon points="377.50,288.90 382.90,286.10 382.90,291.70" fill="#231f20"/>
<polygon points="456.00,288.90 450.60,291.70 450.60,286.10" fill="#231f20"/>
<text x="458.40" y="291.80" font-size="8.0" textLength="54.05" lengthAdjust="spacingAndGlyphs">Dihydroorotate</text>
<line x1="485.90" y1="298.00" x2="485.90" y2="326.00" stroke="#231f20" stroke-width="1.2"/>
<polygon points="485.90,295.00 488.90,300.40 482.90,300.40" fill="#231f20"/>
<polygon points="485.90,329.00 482.90,323.60 488.90,323.60" fill="#231f20"/>
<rect x="468.80" y="332.20" width="34.20" height="13.40" fill="#c8102e"/>
<text x="472.60" y="341.60" font-size="8.0" textLength="26.60" lengthAdjust="spacingAndGlyphs" fill="#ffffff">Orotate</text>
<line x1="423.00" y1="338.80" x2="464.80" y2="338.80" stroke="#231f20" stroke-width="1.2"/>
<polygon points="419.00,338.80 424.40,336.00 424.40,341.60" fill="#231f20"/>
<text x="396.15" y="341.50" font-size="8.0" textLength="18.90" lengthAdjust="spacingAndGlyphs">OMP</text>
<line x1="355.50" y1="338.80" x2="392.50" y2="338.80" stroke="#231f20" stroke-width="1.2"/>
<polygon points="352.10,338.80 357.50,336.00 357.50,341.60" fill="#231f20"/>
<rect x="323.80" y="332.30" width="24.50" height="13.40" fill="#c8102e"/>
<text x="327.55" y="341.60" font-size="8.0" textLength="17.00" lengthAdjust="spacingAndGlyphs" fill="#ffffff">UMP</text>
<line x1="226.00" y1="338.80" x2="317.10" y2="338.80" stroke="#231f20" stroke-width="1.2"/>
<polygon points="222.90,338.80 228.30,336.00 228.30,341.60" fill="#231f20"/>
<rect x="191.70" y="332.10" width="24.50" height="13.20" fill="#c8102e"/>
<text x="196.20" y="341.50" font-size="8.0" textLength="15.50" lengthAdjust="spacingAndGlyphs" fill="#ffffff">UDP</text>
<line x1="94.00" y1="339.00" x2="184.60" y2="339.00" stroke="#231f20" stroke-width="1.2"/>
<polygon points="90.80,339.00 96.20,336.20 96.20,341.80" fill="#231f20"/>
<text x="69.65" y="342.00" font-size="8.0" textLength="14.70" lengthAdjust="spacingAndGlyphs">UTP</text>
<rect x="54.40" y="385.30" width="12.50" height="29.30" fill="#84a7ca" stroke="#7399c2" stroke-width="0.5"/>
<rect x="86.30" y="381.00" width="12.50" height="33.60" fill="#e28296" stroke="#d86f86" stroke-width="0.5"/>
<line x1="48.10" y1="355.60" x2="48.10" y2="415.20" stroke="#231f20" stroke-width="1.2"/>
<line x1="47.50" y1="414.60" x2="105.00" y2="414.60" stroke="#231f20" stroke-width="1.2"/>
<line x1="44.90" y1="359.40" x2="48.10" y2="359.40" stroke="#231f20" stroke-width="1.0"/>
<text x="21.15" y="362.00" font-size="7.8" textLength="17.70" lengthAdjust="spacingAndGlyphs">3×10</text>
<text x="38.75" y="358.20" font-size="5.4" textLength="3.40" lengthAdjust="spacingAndGlyphs">7</text>
<line x1="44.90" y1="378.10" x2="48.10" y2="378.10" stroke="#231f20" stroke-width="1.0"/>
<text x="21.15" y="380.70" font-size="7.8" textLength="17.70" lengthAdjust="spacingAndGlyphs">2×10</text>
<text x="38.75" y="376.90" font-size="5.4" textLength="3.40" lengthAdjust="spacingAndGlyphs">7</text>
<line x1="44.90" y1="396.30" x2="48.10" y2="396.30" stroke="#231f20" stroke-width="1.0"/>
<text x="21.15" y="398.90" font-size="7.8" textLength="17.70" lengthAdjust="spacingAndGlyphs">1×10</text>
<text x="38.75" y="395.10" font-size="5.4" textLength="3.40" lengthAdjust="spacingAndGlyphs">7</text>
<line x1="44.90" y1="414.60" x2="48.10" y2="414.60" stroke="#231f20" stroke-width="1.0"/>
<text x="37.75" y="417.20" font-size="7.8" textLength="4.80" lengthAdjust="spacingAndGlyphs">0</text>
<line x1="60.65" y1="414.60" x2="60.65" y2="417.20" stroke="#231f20" stroke-width="1.0"/>
<line x1="92.55" y1="414.60" x2="92.55" y2="417.20" stroke="#231f20" stroke-width="1.0"/>
<line x1="60.90" y1="382.50" x2="60.90" y2="388.10" stroke="#231f20" stroke-width="1.3"/>
<line x1="57.90" y1="382.50" x2="63.90" y2="382.50" stroke="#231f20" stroke-width="1.3"/>
<line x1="57.90" y1="388.10" x2="63.90" y2="388.10" stroke="#231f20" stroke-width="1.3"/>
<line x1="92.30" y1="376.60" x2="92.30" y2="383.10" stroke="#231f20" stroke-width="1.3"/>
<line x1="89.30" y1="376.60" x2="95.30" y2="376.60" stroke="#231f20" stroke-width="1.3"/>
<line x1="89.30" y1="383.10" x2="95.30" y2="383.10" stroke="#231f20" stroke-width="1.3"/>
<circle cx="56.00" cy="376.50" r="2.25" fill="#124d8c"/>
<circle cx="60.90" cy="375.90" r="2.25" fill="#124d8c"/>
<circle cx="65.90" cy="374.40" r="2.25" fill="#124d8c"/>
<circle cx="56.00" cy="388.40" r="2.25" fill="#124d8c"/>
<circle cx="60.90" cy="390.60" r="2.25" fill="#124d8c"/>
<circle cx="65.90" cy="389.80" r="2.25" fill="#124d8c"/>
<circle cx="60.90" cy="400.40" r="2.25" fill="#124d8c"/>
<circle cx="87.30" cy="370.90" r="2.25" fill="#cf0a2c"/>
<circle cx="97.50" cy="372.80" r="2.25" fill="#cf0a2c"/>
<circle cx="87.30" cy="376.60" r="2.25" fill="#cf0a2c"/>
<circle cx="97.50" cy="378.80" r="2.25" fill="#cf0a2c"/>
<circle cx="92.30" cy="381.00" r="2.25" fill="#cf0a2c"/>
<circle cx="92.30" cy="385.60" r="2.25" fill="#cf0a2c"/>
<circle cx="92.30" cy="390.40" r="2.25" fill="#cf0a2c"/>
<path d="M60.60,364.10 V360.40 H92.50 V364.10" stroke="#231f20" stroke-width="1.0" fill="none"/>
<text x="72.55" y="357.50" font-size="7.4" textLength="8.10" lengthAdjust="spacingAndGlyphs">ns</text>
<text transform="translate(14.90,386.70) rotate(-90)" x="0" y="0" font-size="9.2" text-anchor="middle" textLength="47.80" lengthAdjust="spacingAndGlyphs">Peak area (AU)</text>
<text x="48.35" y="426.80" font-size="8.0" textLength="24.60" lengthAdjust="spacingAndGlyphs">Vehicle</text>
<text x="79.35" y="426.80" font-size="8.0" textLength="26.30" lengthAdjust="spacingAndGlyphs">MDM2i</text>
<rect x="184.80" y="400.20" width="12.80" height="14.70" fill="#84a7ca" stroke="#7399c2" stroke-width="0.5"/>
<rect x="216.20" y="388.40" width="12.80" height="26.50" fill="#e28296" stroke="#d86f86" stroke-width="0.5"/>
<line x1="178.40" y1="356.00" x2="178.40" y2="415.50" stroke="#231f20" stroke-width="1.2"/>
<line x1="177.80" y1="414.90" x2="235.30" y2="414.90" stroke="#231f20" stroke-width="1.2"/>
<line x1="175.20" y1="360.10" x2="178.40" y2="360.10" stroke="#231f20" stroke-width="1.0"/>
<text x="145.25" y="362.70" font-size="7.8" textLength="23.90" lengthAdjust="spacingAndGlyphs">2.5×10</text>
<text x="169.05" y="358.90" font-size="5.4" textLength="3.40" lengthAdjust="spacingAndGlyphs">6</text>
<line x1="175.20" y1="371.10" x2="178.40" y2="371.10" stroke="#231f20" stroke-width="1.0"/>
<text x="145.25" y="373.70" font-size="7.8" textLength="23.90" lengthAdjust="spacingAndGlyphs">2.0×10</text>
<text x="169.05" y="369.90" font-size="5.4" textLength="3.40" lengthAdjust="spacingAndGlyphs">6</text>
<line x1="175.20" y1="382.00" x2="178.40" y2="382.00" stroke="#231f20" stroke-width="1.0"/>
<text x="145.25" y="384.60" font-size="7.8" textLength="23.90" lengthAdjust="spacingAndGlyphs">1.5×10</text>
<text x="169.05" y="380.80" font-size="5.4" textLength="3.40" lengthAdjust="spacingAndGlyphs">6</text>
<line x1="175.20" y1="393.10" x2="178.40" y2="393.10" stroke="#231f20" stroke-width="1.0"/>
<text x="145.25" y="395.70" font-size="7.8" textLength="23.90" lengthAdjust="spacingAndGlyphs">1.0×10</text>
<text x="169.05" y="391.90" font-size="5.4" textLength="3.40" lengthAdjust="spacingAndGlyphs">6</text>
<line x1="175.20" y1="403.80" x2="178.40" y2="403.80" stroke="#231f20" stroke-width="1.0"/>
<text x="145.25" y="406.40" font-size="7.8" textLength="23.90" lengthAdjust="spacingAndGlyphs">5.0×10</text>
<text x="169.05" y="402.60" font-size="5.4" textLength="3.40" lengthAdjust="spacingAndGlyphs">5</text>
<line x1="175.20" y1="414.90" x2="178.40" y2="414.90" stroke="#231f20" stroke-width="1.0"/>
<text x="161.35" y="417.50" font-size="7.8" textLength="11.50" lengthAdjust="spacingAndGlyphs">0.0</text>
<line x1="191.20" y1="414.90" x2="191.20" y2="417.50" stroke="#231f20" stroke-width="1.0"/>
<line x1="222.60" y1="414.90" x2="222.60" y2="417.50" stroke="#231f20" stroke-width="1.0"/>
<line x1="190.90" y1="397.40" x2="190.90" y2="402.10" stroke="#231f20" stroke-width="1.3"/>
<line x1="187.90" y1="397.40" x2="193.90" y2="397.40" stroke="#231f20" stroke-width="1.3"/>
<line x1="187.90" y1="402.10" x2="193.90" y2="402.10" stroke="#231f20" stroke-width="1.3"/>
<line x1="222.50" y1="382.70" x2="222.50" y2="393.30" stroke="#231f20" stroke-width="1.3"/>
<line x1="219.50" y1="382.70" x2="225.50" y2="382.70" stroke="#231f20" stroke-width="1.3"/>
<line x1="219.50" y1="393.30" x2="225.50" y2="393.30" stroke="#231f20" stroke-width="1.3"/>
<circle cx="190.90" cy="387.70" r="2.25" fill="#124d8c"/>
<circle cx="188.20" cy="394.80" r="2.25" fill="#124d8c"/>
<circle cx="193.60" cy="396.20" r="2.25" fill="#124d8c"/>
<circle cx="190.90" cy="400.10" r="2.25" fill="#124d8c"/>
<circle cx="185.90" cy="403.40" r="2.25" fill="#124d8c"/>
<circle cx="190.90" cy="404.20" r="2.25" fill="#124d8c"/>
<circle cx="196.00" cy="403.80" r="2.25" fill="#124d8c"/>
<circle cx="190.90" cy="408.10" r="2.25" fill="#124d8c"/>
<circle cx="222.50" cy="367.20" r="2.25" fill="#cf0a2c"/>
<circle cx="222.50" cy="375.20" r="2.25" fill="#cf0a2c"/>
<circle cx="222.50" cy="385.70" r="2.25" fill="#cf0a2c"/>
<circle cx="217.50" cy="391.30" r="2.25" fill="#cf0a2c"/>
<circle cx="227.50" cy="390.80" r="2.25" fill="#cf0a2c"/>
<circle cx="217.50" cy="402.80" r="2.25" fill="#cf0a2c"/>
<circle cx="227.50" cy="400.90" r="2.25" fill="#cf0a2c"/>
<path d="M190.90,364.00 V360.40 H222.50 V364.00" stroke="#231f20" stroke-width="1.0" fill="none"/>
<polygon points="206.60,354.00 207.13,355.27 208.50,355.38 207.46,356.28 207.78,357.62 206.60,356.90 205.42,357.62 205.74,356.28 204.70,355.38 206.07,355.27" fill="#231f20"/>
<text transform="translate(139.20,385.50) rotate(-90)" x="0" y="0" font-size="9.2" text-anchor="middle" textLength="47.50" lengthAdjust="spacingAndGlyphs">Peak area (AU)</text>
<text x="178.90" y="426.80" font-size="8.0" textLength="24.60" lengthAdjust="spacingAndGlyphs">Vehicle</text>
<text x="209.45" y="426.80" font-size="8.0" textLength="26.30" lengthAdjust="spacingAndGlyphs">MDM2i</text>
<rect x="316.20" y="392.00" width="12.80" height="22.90" fill="#84a7ca" stroke="#7399c2" stroke-width="0.5"/>
<rect x="348.10" y="378.90" width="12.40" height="36.00" fill="#e28296" stroke="#d86f86" stroke-width="0.5"/>
<line x1="310.40" y1="358.70" x2="310.40" y2="415.50" stroke="#231f20" stroke-width="1.2"/>
<line x1="309.80" y1="414.90" x2="366.60" y2="414.90" stroke="#231f20" stroke-width="1.2"/>
<line x1="307.20" y1="362.80" x2="310.40" y2="362.80" stroke="#231f20" stroke-width="1.0"/>
<text x="277.25" y="365.40" font-size="7.8" textLength="23.90" lengthAdjust="spacingAndGlyphs">2.0×10</text>
<text x="301.05" y="361.60" font-size="5.4" textLength="3.40" lengthAdjust="spacingAndGlyphs">6</text>
<line x1="307.20" y1="375.80" x2="310.40" y2="375.80" stroke="#231f20" stroke-width="1.0"/>
<text x="277.25" y="378.40" font-size="7.8" textLength="23.90" lengthAdjust="spacingAndGlyphs">1.5×10</text>
<text x="301.05" y="374.60" font-size="5.4" textLength="3.40" lengthAdjust="spacingAndGlyphs">6</text>
<line x1="307.20" y1="388.80" x2="310.40" y2="388.80" stroke="#231f20" stroke-width="1.0"/>
<text x="277.25" y="391.40" font-size="7.8" textLength="23.90" lengthAdjust="spacingAndGlyphs">1.0×10</text>
<text x="301.05" y="387.60" font-size="5.4" textLength="3.40" lengthAdjust="spacingAndGlyphs">6</text>
<line x1="307.20" y1="401.80" x2="310.40" y2="401.80" stroke="#231f20" stroke-width="1.0"/>
<text x="277.25" y="404.40" font-size="7.8" textLength="23.90" lengthAdjust="spacingAndGlyphs">5.0×10</text>
<text x="301.05" y="400.60" font-size="5.4" textLength="3.40" lengthAdjust="spacingAndGlyphs">5</text>
<line x1="307.20" y1="414.90" x2="310.40" y2="414.90" stroke="#231f20" stroke-width="1.0"/>
<text x="293.35" y="417.50" font-size="7.8" textLength="11.50" lengthAdjust="spacingAndGlyphs">0.0</text>
<line x1="322.60" y1="414.90" x2="322.60" y2="417.50" stroke="#231f20" stroke-width="1.0"/>
<line x1="354.30" y1="414.90" x2="354.30" y2="417.50" stroke="#231f20" stroke-width="1.0"/>
<line x1="322.50" y1="389.40" x2="322.50" y2="393.50" stroke="#231f20" stroke-width="1.3"/>
<line x1="319.50" y1="389.40" x2="325.50" y2="389.40" stroke="#231f20" stroke-width="1.3"/>
<line x1="319.50" y1="393.50" x2="325.50" y2="393.50" stroke="#231f20" stroke-width="1.3"/>
<line x1="354.10" y1="374.90" x2="354.10" y2="382.30" stroke="#231f20" stroke-width="1.3"/>
<line x1="351.10" y1="374.90" x2="357.10" y2="374.90" stroke="#231f20" stroke-width="1.3"/>
<line x1="351.10" y1="382.30" x2="357.10" y2="382.30" stroke="#231f20" stroke-width="1.3"/>
<circle cx="322.50" cy="378.00" r="2.25" fill="#124d8c"/>
<circle cx="317.80" cy="387.40" r="2.25" fill="#124d8c"/>
<circle cx="322.50" cy="388.60" r="2.25" fill="#124d8c"/>
<circle cx="317.80" cy="391.70" r="2.25" fill="#124d8c"/>
<circle cx="322.50" cy="393.30" r="2.25" fill="#124d8c"/>
<circle cx="322.50" cy="396.20" r="2.25" fill="#124d8c"/>
<circle cx="317.80" cy="398.00" r="2.25" fill="#124d8c"/>
<circle cx="327.50" cy="398.00" r="2.25" fill="#124d8c"/>
<circle cx="349.10" cy="366.80" r="2.25" fill="#cf0a2c"/>
<circle cx="359.10" cy="367.90" r="2.25" fill="#cf0a2c"/>
<circle cx="354.10" cy="372.20" r="2.25" fill="#cf0a2c"/>
<circle cx="349.10" cy="382.30" r="2.25" fill="#cf0a2c"/>
<circle cx="359.10" cy="381.90" r="2.25" fill="#cf0a2c"/>
<circle cx="349.10" cy="390.40" r="2.25" fill="#cf0a2c"/>
<circle cx="359.10" cy="389.70" r="2.25" fill="#cf0a2c"/>
<path d="M322.20,364.10 V360.40 H354.40 V364.10" stroke="#231f20" stroke-width="1.0" fill="none"/>
<polygon points="338.40,354.00 338.93,355.27 340.30,355.38 339.26,356.28 339.58,357.62 338.40,356.90 337.22,357.62 337.54,356.28 336.50,355.38 337.87,355.27" fill="#231f20"/>
<text transform="translate(270.60,386.20) rotate(-90)" x="0" y="0" font-size="9.2" text-anchor="middle" textLength="47.20" lengthAdjust="spacingAndGlyphs">Peak area (AU)</text>
<text x="310.30" y="426.80" font-size="8.0" textLength="24.60" lengthAdjust="spacingAndGlyphs">Vehicle</text>
<text x="341.15" y="426.80" font-size="8.0" textLength="26.30" lengthAdjust="spacingAndGlyphs">MDM2i</text>
<rect x="450.10" y="396.40" width="12.80" height="18.50" fill="#84a7ca" stroke="#7399c2" stroke-width="0.5"/>
<rect x="481.40" y="382.70" width="12.80" height="32.20" fill="#e28296" stroke="#d86f86" stroke-width="0.5"/>
<line x1="443.70" y1="355.70" x2="443.70" y2="415.50" stroke="#231f20" stroke-width="1.2"/>
<line x1="443.10" y1="414.90" x2="500.50" y2="414.90" stroke="#231f20" stroke-width="1.2"/>
<line x1="440.50" y1="359.40" x2="443.70" y2="359.40" stroke="#231f20" stroke-width="1.0"/>
<text x="410.55" y="362.00" font-size="7.8" textLength="23.90" lengthAdjust="spacingAndGlyphs">2.0×10</text>
<text x="434.35" y="358.20" font-size="5.4" textLength="3.40" lengthAdjust="spacingAndGlyphs">6</text>
<line x1="440.50" y1="373.30" x2="443.70" y2="373.30" stroke="#231f20" stroke-width="1.0"/>
<text x="410.55" y="375.90" font-size="7.8" textLength="23.90" lengthAdjust="spacingAndGlyphs">1.5×10</text>
<text x="434.35" y="372.10" font-size="5.4" textLength="3.40" lengthAdjust="spacingAndGlyphs">6</text>
<line x1="440.50" y1="387.30" x2="443.70" y2="387.30" stroke="#231f20" stroke-width="1.0"/>
<text x="410.55" y="389.90" font-size="7.8" textLength="23.90" lengthAdjust="spacingAndGlyphs">1.0×10</text>
<text x="434.35" y="386.10" font-size="5.4" textLength="3.40" lengthAdjust="spacingAndGlyphs">6</text>
<line x1="440.50" y1="401.10" x2="443.70" y2="401.10" stroke="#231f20" stroke-width="1.0"/>
<text x="410.55" y="403.70" font-size="7.8" textLength="23.90" lengthAdjust="spacingAndGlyphs">5.0×10</text>
<text x="434.35" y="399.90" font-size="5.4" textLength="3.40" lengthAdjust="spacingAndGlyphs">5</text>
<line x1="440.50" y1="414.90" x2="443.70" y2="414.90" stroke="#231f20" stroke-width="1.0"/>
<text x="426.65" y="417.50" font-size="7.8" textLength="11.50" lengthAdjust="spacingAndGlyphs">0.0</text>
<line x1="456.50" y1="414.90" x2="456.50" y2="417.50" stroke="#231f20" stroke-width="1.0"/>
<line x1="487.80" y1="414.90" x2="487.80" y2="417.50" stroke="#231f20" stroke-width="1.0"/>
<line x1="456.30" y1="393.00" x2="456.30" y2="397.40" stroke="#231f20" stroke-width="1.3"/>
<line x1="453.30" y1="393.00" x2="459.30" y2="393.00" stroke="#231f20" stroke-width="1.3"/>
<line x1="453.30" y1="397.40" x2="459.30" y2="397.40" stroke="#231f20" stroke-width="1.3"/>
<line x1="487.90" y1="378.90" x2="487.90" y2="387.00" stroke="#231f20" stroke-width="1.3"/>
<line x1="484.90" y1="378.90" x2="490.90" y2="378.90" stroke="#231f20" stroke-width="1.3"/>
<line x1="484.90" y1="387.00" x2="490.90" y2="387.00" stroke="#231f20" stroke-width="1.3"/>
<circle cx="456.30" cy="386.10" r="2.25" fill="#124d8c"/>
<circle cx="451.20" cy="391.00" r="2.25" fill="#124d8c"/>
<circle cx="461.50" cy="392.40" r="2.25" fill="#124d8c"/>
<circle cx="456.30" cy="393.70" r="2.25" fill="#124d8c"/>
<circle cx="451.20" cy="395.40" r="2.25" fill="#124d8c"/>
<circle cx="461.50" cy="395.80" r="2.25" fill="#124d8c"/>
<circle cx="456.30" cy="400.50" r="2.25" fill="#124d8c"/>
<circle cx="456.30" cy="405.20" r="2.25" fill="#124d8c"/>
<circle cx="487.90" cy="367.10" r="2.25" fill="#cf0a2c"/>
<circle cx="487.90" cy="376.90" r="2.25" fill="#cf0a2c"/>
<circle cx="482.80" cy="381.60" r="2.25" fill="#cf0a2c"/>
<circle cx="492.90" cy="381.90" r="2.25" fill="#cf0a2c"/>
<circle cx="482.80" cy="389.70" r="2.25" fill="#cf0a2c"/>
<circle cx="492.90" cy="389.70" r="2.25" fill="#cf0a2c"/>
<circle cx="487.90" cy="394.10" r="2.25" fill="#cf0a2c"/>
<path d="M456.10,364.10 V360.40 H487.90 V364.10" stroke="#231f20" stroke-width="1.0" fill="none"/>
<polygon points="469.90,354.20 470.43,355.47 471.80,355.58 470.76,356.48 471.08,357.82 469.90,357.10 468.72,357.82 469.04,356.48 468.00,355.58 469.37,355.47" fill="#231f20"/>
<polygon points="474.30,354.20 474.83,355.47 476.20,355.58 475.16,356.48 475.48,357.82 474.30,357.10 473.12,357.82 473.44,356.48 472.40,355.58 473.77,355.47" fill="#231f20"/>
<text transform="translate(404.70,384.90) rotate(-90)" x="0" y="0" font-size="9.2" text-anchor="middle" textLength="47.60" lengthAdjust="spacingAndGlyphs">Peak area (AU)</text>
<text x="444.20" y="426.80" font-size="8.0" textLength="24.60" lengthAdjust="spacingAndGlyphs">Vehicle</text>
<text x="474.65" y="426.80" font-size="8.0" textLength="26.30" lengthAdjust="spacingAndGlyphs">MDM2i</text>
<text x="7.20" y="454.53" font-size="11.5" font-weight="bold">D</text>
<text x="78.85" y="460.40" font-size="8.0" textLength="25.70" lengthAdjust="spacingAndGlyphs">Vehicle</text>
<text x="155.05" y="460.40" font-size="8.0" textLength="57.00" lengthAdjust="spacingAndGlyphs">MDM2 inhibitor</text>
<rect x="42.60" y="463.40" width="98.30" height="3.40" fill="#b3b3bb"/>
<rect x="140.90" y="463.40" width="86.30" height="3.40" fill="#c8102e"/>
<rect x="42.50" y="468.90" width="12.30" height="7.17" fill="#e3e2e2"/>
<rect x="54.80" y="468.90" width="12.30" height="7.17" fill="#86bce0"/>
<rect x="67.10" y="468.90" width="12.30" height="7.17" fill="#a2cce6"/>
<rect x="79.40" y="468.90" width="12.30" height="7.17" fill="#7fb7dd"/>
<rect x="91.70" y="468.90" width="12.30" height="7.17" fill="#f7dbcc"/>
<rect x="104.00" y="468.90" width="12.30" height="7.17" fill="#f8cab3"/>
<rect x="116.30" y="468.90" width="12.30" height="7.17" fill="#9bc8e5"/>
<rect x="128.60" y="468.90" width="12.30" height="7.17" fill="#2d73b3"/>
<rect x="140.90" y="468.90" width="12.30" height="7.17" fill="#afd3e9"/>
<rect x="153.20" y="468.90" width="12.30" height="7.17" fill="#f8cab3"/>
<rect x="165.50" y="468.90" width="12.30" height="7.17" fill="#e06b56"/>
<rect x="177.80" y="468.90" width="12.30" height="7.17" fill="#ca383a"/>
<rect x="190.10" y="468.90" width="12.30" height="7.17" fill="#cf403e"/>
<rect x="202.40" y="468.90" width="12.30" height="7.17" fill="#e3e2e2"/>
<rect x="214.70" y="468.90" width="12.30" height="7.17" fill="#eddfd7"/>
<rect x="42.50" y="476.06" width="12.30" height="7.17" fill="#e3e2e2"/>
<rect x="54.80" y="476.06" width="12.30" height="7.17" fill="#092f68"/>
<rect x="67.10" y="476.06" width="12.30" height="7.17" fill="#f8cab3"/>
<rect x="79.40" y="476.06" width="12.30" height="7.17" fill="#3c88c3"/>
<rect x="91.70" y="476.06" width="12.30" height="7.17" fill="#ee9578"/>
<rect x="104.00" y="476.06" width="12.30" height="7.17" fill="#94c4e3"/>
<rect x="116.30" y="476.06" width="12.30" height="7.17" fill="#afd3e9"/>
<rect x="128.60" y="476.06" width="12.30" height="7.17" fill="#e3e2e2"/>
<rect x="140.90" y="476.06" width="12.30" height="7.17" fill="#f7bfa6"/>
<rect x="153.20" y="476.06" width="12.30" height="7.17" fill="#f8c5ac"/>
<rect x="165.50" y="476.06" width="12.30" height="7.17" fill="#fadac8"/>
<rect x="177.80" y="476.06" width="12.30" height="7.17" fill="#f6b598"/>
<rect x="190.10" y="476.06" width="12.30" height="7.17" fill="#eb8b6e"/>
<rect x="202.40" y="476.06" width="12.30" height="7.17" fill="#f7bfa6"/>
<rect x="214.70" y="476.06" width="12.30" height="7.17" fill="#f9cfba"/>
<rect x="42.50" y="483.23" width="12.30" height="7.17" fill="#f6b598"/>
<rect x="54.80" y="483.23" width="12.30" height="7.17" fill="#134a8c"/>
<rect x="67.10" y="483.23" width="12.30" height="7.17" fill="#3c88c3"/>
<rect x="79.40" y="483.23" width="12.30" height="7.17" fill="#f7dbcc"/>
<rect x="91.70" y="483.23" width="12.30" height="7.17" fill="#eb8b6e"/>
<rect x="104.00" y="483.23" width="12.30" height="7.17" fill="#bddbec"/>
<rect x="116.30" y="483.23" width="12.30" height="7.17" fill="#94c4e3"/>
<rect x="128.60" y="483.23" width="12.30" height="7.17" fill="#e3e2e2"/>
<rect x="140.90" y="483.23" width="12.30" height="7.17" fill="#f6af91"/>
<rect x="153.20" y="483.23" width="12.30" height="7.17" fill="#f6b598"/>
<rect x="165.50" y="483.23" width="12.30" height="7.17" fill="#f3dccf"/>
<rect x="177.80" y="483.23" width="12.30" height="7.17" fill="#eb8b6e"/>
<rect x="190.10" y="483.23" width="12.30" height="7.17" fill="#f5aa8a"/>
<rect x="202.40" y="483.23" width="12.30" height="7.17" fill="#c8dfec"/>
<rect x="214.70" y="483.23" width="12.30" height="7.17" fill="#fadac8"/>
<rect x="42.50" y="490.39" width="12.30" height="7.17" fill="#afd3e9"/>
<rect x="54.80" y="490.39" width="12.30" height="7.17" fill="#276dae"/>
<rect x="67.10" y="490.39" width="12.30" height="7.17" fill="#e3e2e2"/>
<rect x="79.40" y="490.39" width="12.30" height="7.17" fill="#e3e2e2"/>
<rect x="91.70" y="490.39" width="12.30" height="7.17" fill="#f8cab3"/>
<rect x="104.00" y="490.39" width="12.30" height="7.17" fill="#5a9dcf"/>
<rect x="116.30" y="490.39" width="12.30" height="7.17" fill="#bddbec"/>
<rect x="128.60" y="490.39" width="12.30" height="7.17" fill="#a2cce6"/>
<rect x="140.90" y="490.39" width="12.30" height="7.17" fill="#bddbec"/>
<rect x="153.20" y="490.39" width="12.30" height="7.17" fill="#f5aa8a"/>
<rect x="165.50" y="490.39" width="12.30" height="7.17" fill="#f7bfa6"/>
<rect x="177.80" y="490.39" width="12.30" height="7.17" fill="#e3e2e2"/>
<rect x="190.10" y="490.39" width="12.30" height="7.17" fill="#c12830"/>
<rect x="202.40" y="490.39" width="12.30" height="7.17" fill="#dc6050"/>
<rect x="214.70" y="490.39" width="12.30" height="7.17" fill="#f7ba9f"/>
<rect x="42.50" y="497.56" width="12.30" height="7.17" fill="#4b92c9"/>
<rect x="54.80" y="497.56" width="12.30" height="7.17" fill="#276dae"/>
<rect x="67.10" y="497.56" width="12.30" height="7.17" fill="#afd3e9"/>
<rect x="79.40" y="497.56" width="12.30" height="7.17" fill="#f6b598"/>
<rect x="91.70" y="497.56" width="12.30" height="7.17" fill="#f7bfa6"/>
<rect x="104.00" y="497.56" width="12.30" height="7.17" fill="#5a9dcf"/>
<rect x="116.30" y="497.56" width="12.30" height="7.17" fill="#d1e0e9"/>
<rect x="128.60" y="497.56" width="12.30" height="7.17" fill="#e3e2e2"/>
<rect x="140.90" y="497.56" width="12.30" height="7.17" fill="#f6b598"/>
<rect x="153.20" y="497.56" width="12.30" height="7.17" fill="#f2a081"/>
<rect x="165.50" y="497.56" width="12.30" height="7.17" fill="#bddbec"/>
<rect x="177.80" y="497.56" width="12.30" height="7.17" fill="#f9cfba"/>
<rect x="190.10" y="497.56" width="12.30" height="7.17" fill="#dc6050"/>
<rect x="202.40" y="497.56" width="12.30" height="7.17" fill="#f6af91"/>
<rect x="214.70" y="497.56" width="12.30" height="7.17" fill="#f7bfa6"/>
<rect x="42.50" y="504.72" width="12.30" height="7.17" fill="#1d5fa3"/>
<rect x="54.80" y="504.72" width="12.30" height="7.17" fill="#afd3e9"/>
<rect x="67.10" y="504.72" width="12.30" height="7.17" fill="#afd3e9"/>
<rect x="79.40" y="504.72" width="12.30" height="7.17" fill="#f0ddd3"/>
<rect x="91.70" y="504.72" width="12.30" height="7.17" fill="#f9cfba"/>
<rect x="104.00" y="504.72" width="12.30" height="7.17" fill="#3c88c3"/>
<rect x="116.30" y="504.72" width="12.30" height="7.17" fill="#dae1e5"/>
<rect x="128.60" y="504.72" width="12.30" height="7.17" fill="#bddbec"/>
<rect x="140.90" y="504.72" width="12.30" height="7.17" fill="#f7bfa6"/>
<rect x="153.20" y="504.72" width="12.30" height="7.17" fill="#eb8b6e"/>
<rect x="165.50" y="504.72" width="12.30" height="7.17" fill="#ee9578"/>
<rect x="177.80" y="504.72" width="12.30" height="7.17" fill="#eb8b6e"/>
<rect x="190.10" y="504.72" width="12.30" height="7.17" fill="#ee9578"/>
<rect x="202.40" y="504.72" width="12.30" height="7.17" fill="#f3dccf"/>
<rect x="214.70" y="504.72" width="12.30" height="7.17" fill="#dae1e5"/>
<rect x="42.50" y="511.89" width="12.30" height="7.17" fill="#327ab8"/>
<rect x="54.80" y="511.89" width="12.30" height="7.17" fill="#86bce0"/>
<rect x="67.10" y="511.89" width="12.30" height="7.17" fill="#f9d5c1"/>
<rect x="79.40" y="511.89" width="12.30" height="7.17" fill="#f7bfa6"/>
<rect x="91.70" y="511.89" width="12.30" height="7.17" fill="#f7bfa6"/>
<rect x="104.00" y="511.89" width="12.30" height="7.17" fill="#2d73b3"/>
<rect x="116.30" y="511.89" width="12.30" height="7.17" fill="#d1e0e9"/>
<rect x="128.60" y="511.89" width="12.30" height="7.17" fill="#afd3e9"/>
<rect x="140.90" y="511.89" width="12.30" height="7.17" fill="#f3dccf"/>
<rect x="153.20" y="511.89" width="12.30" height="7.17" fill="#eb8b6e"/>
<rect x="165.50" y="511.89" width="12.30" height="7.17" fill="#eb8b6e"/>
<rect x="177.80" y="511.89" width="12.30" height="7.17" fill="#afd3e9"/>
<rect x="190.10" y="511.89" width="12.30" height="7.17" fill="#eb8b6e"/>
<rect x="202.40" y="511.89" width="12.30" height="7.17" fill="#f6af91"/>
<rect x="214.70" y="511.89" width="12.30" height="7.17" fill="#f8cab3"/>
<rect x="42.50" y="519.05" width="12.30" height="7.17" fill="#155195"/>
<rect x="54.80" y="519.05" width="12.30" height="7.17" fill="#86bce0"/>
<rect x="67.10" y="519.05" width="12.30" height="7.17" fill="#f9d5c1"/>
<rect x="79.40" y="519.05" width="12.30" height="7.17" fill="#e4765c"/>
<rect x="91.70" y="519.05" width="12.30" height="7.17" fill="#d1e0e9"/>
<rect x="104.00" y="519.05" width="12.30" height="7.17" fill="#77b2da"/>
<rect x="116.30" y="519.05" width="12.30" height="7.17" fill="#dae1e5"/>
<rect x="128.60" y="519.05" width="12.30" height="7.17" fill="#c8dfec"/>
<rect x="140.90" y="519.05" width="12.30" height="7.17" fill="#f7dbcc"/>
<rect x="153.20" y="519.05" width="12.30" height="7.17" fill="#f8cab3"/>
<rect x="165.50" y="519.05" width="12.30" height="7.17" fill="#f2a081"/>
<rect x="177.80" y="519.05" width="12.30" height="7.17" fill="#c8dfec"/>
<rect x="190.10" y="519.05" width="12.30" height="7.17" fill="#dc6050"/>
<rect x="202.40" y="519.05" width="12.30" height="7.17" fill="#f6b598"/>
<rect x="214.70" y="519.05" width="12.30" height="7.17" fill="#f9d5c1"/>
<rect x="42.50" y="526.22" width="12.30" height="7.17" fill="#77b2da"/>
<rect x="54.80" y="526.22" width="12.30" height="7.17" fill="#86bce0"/>
<rect x="67.10" y="526.22" width="12.30" height="7.17" fill="#f6b598"/>
<rect x="79.40" y="526.22" width="12.30" height="7.17" fill="#f6b598"/>
<rect x="91.70" y="526.22" width="12.30" height="7.17" fill="#f7dbcc"/>
<rect x="104.00" y="526.22" width="12.30" height="7.17" fill="#68a7d4"/>
<rect x="116.30" y="526.22" width="12.30" height="7.17" fill="#86bce0"/>
<rect x="128.60" y="526.22" width="12.30" height="7.17" fill="#afd3e9"/>
<rect x="140.90" y="526.22" width="12.30" height="7.17" fill="#94c4e3"/>
<rect x="153.20" y="526.22" width="12.30" height="7.17" fill="#e06b56"/>
<rect x="165.50" y="526.22" width="12.30" height="7.17" fill="#f6b598"/>
<rect x="177.80" y="526.22" width="12.30" height="7.17" fill="#f7dbcc"/>
<rect x="190.10" y="526.22" width="12.30" height="7.17" fill="#f5aa8a"/>
<rect x="202.40" y="526.22" width="12.30" height="7.17" fill="#f6af91"/>
<rect x="214.70" y="526.22" width="12.30" height="7.17" fill="#f7bfa6"/>
<rect x="42.50" y="533.38" width="12.30" height="7.17" fill="#94c4e3"/>
<rect x="54.80" y="533.38" width="12.30" height="7.17" fill="#77b2da"/>
<rect x="67.10" y="533.38" width="12.30" height="7.17" fill="#f8cab3"/>
<rect x="79.40" y="533.38" width="12.30" height="7.17" fill="#f8cab3"/>
<rect x="91.70" y="533.38" width="12.30" height="7.17" fill="#f7dbcc"/>
<rect x="104.00" y="533.38" width="12.30" height="7.17" fill="#18589e"/>
<rect x="116.30" y="533.38" width="12.30" height="7.17" fill="#afd3e9"/>
<rect x="128.60" y="533.38" width="12.30" height="7.17" fill="#afd3e9"/>
<rect x="140.90" y="533.38" width="12.30" height="7.17" fill="#86bce0"/>
<rect x="153.20" y="533.38" width="12.30" height="7.17" fill="#f2a081"/>
<rect x="165.50" y="533.38" width="12.30" height="7.17" fill="#f7dbcc"/>
<rect x="177.80" y="533.38" width="12.30" height="7.17" fill="#f5aa8a"/>
<rect x="190.10" y="533.38" width="12.30" height="7.17" fill="#eb8b6e"/>
<rect x="202.40" y="533.38" width="12.30" height="7.17" fill="#f2a081"/>
<rect x="214.70" y="533.38" width="12.30" height="7.17" fill="#f9d5c1"/>
<rect x="42.50" y="540.55" width="12.30" height="7.17" fill="#94c4e3"/>
<rect x="54.80" y="540.55" width="12.30" height="7.17" fill="#5a9dcf"/>
<rect x="67.10" y="540.55" width="12.30" height="7.17" fill="#dc6050"/>
<rect x="79.40" y="540.55" width="12.30" height="7.17" fill="#e3e2e2"/>
<rect x="91.70" y="540.55" width="12.30" height="7.17" fill="#bddbec"/>
<rect x="104.00" y="540.55" width="12.30" height="7.17" fill="#327ab8"/>
<rect x="116.30" y="540.55" width="12.30" height="7.17" fill="#bddbec"/>
<rect x="128.60" y="540.55" width="12.30" height="7.17" fill="#bddbec"/>
<rect x="140.90" y="540.55" width="12.30" height="7.17" fill="#e3e2e2"/>
<rect x="153.20" y="540.55" width="12.30" height="7.17" fill="#f6b598"/>
<rect x="165.50" y="540.55" width="12.30" height="7.17" fill="#f7bfa6"/>
<rect x="177.80" y="540.55" width="12.30" height="7.17" fill="#eddfd7"/>
<rect x="190.10" y="540.55" width="12.30" height="7.17" fill="#890d24"/>
<rect x="202.40" y="540.55" width="12.30" height="7.17" fill="#f8cab3"/>
<rect x="214.70" y="540.55" width="12.30" height="7.17" fill="#e3e2e2"/>
<rect x="42.50" y="547.71" width="12.30" height="7.17" fill="#cde0eb"/>
<rect x="54.80" y="547.71" width="12.30" height="7.17" fill="#77b2da"/>
<rect x="67.10" y="547.71" width="12.30" height="7.17" fill="#e3e2e2"/>
<rect x="79.40" y="547.71" width="12.30" height="7.17" fill="#eae0db"/>
<rect x="91.70" y="547.71" width="12.30" height="7.17" fill="#c8dfec"/>
<rect x="104.00" y="547.71" width="12.30" height="7.17" fill="#155195"/>
<rect x="116.30" y="547.71" width="12.30" height="7.17" fill="#afd3e9"/>
<rect x="128.60" y="547.71" width="12.30" height="7.17" fill="#afd3e9"/>
<rect x="140.90" y="547.71" width="12.30" height="7.17" fill="#eae0db"/>
<rect x="153.20" y="547.71" width="12.30" height="7.17" fill="#c12830"/>
<rect x="165.50" y="547.71" width="12.30" height="7.17" fill="#f7bfa6"/>
<rect x="177.80" y="547.71" width="12.30" height="7.17" fill="#f7ba9f"/>
<rect x="190.10" y="547.71" width="12.30" height="7.17" fill="#f5aa8a"/>
<rect x="202.40" y="547.71" width="12.30" height="7.17" fill="#e4765c"/>
<rect x="214.70" y="547.71" width="12.30" height="7.17" fill="#e3e2e2"/>
<rect x="42.50" y="554.88" width="12.30" height="7.17" fill="#86bce0"/>
<rect x="54.80" y="554.88" width="12.30" height="7.17" fill="#4b92c9"/>
<rect x="67.10" y="554.88" width="12.30" height="7.17" fill="#f6af91"/>
<rect x="79.40" y="554.88" width="12.30" height="7.17" fill="#f9cfba"/>
<rect x="91.70" y="554.88" width="12.30" height="7.17" fill="#f7dbcc"/>
<rect x="104.00" y="554.88" width="12.30" height="7.17" fill="#2d73b3"/>
<rect x="116.30" y="554.88" width="12.30" height="7.17" fill="#94c4e3"/>
<rect x="128.60" y="554.88" width="12.30" height="7.17" fill="#94c4e3"/>
<rect x="140.90" y="554.88" width="12.30" height="7.17" fill="#f0ddd3"/>
<rect x="153.20" y="554.88" width="12.30" height="7.17" fill="#ee9578"/>
<rect x="165.50" y="554.88" width="12.30" height="7.17" fill="#f7bfa6"/>
<rect x="177.80" y="554.88" width="12.30" height="7.17" fill="#eddfd7"/>
<rect x="190.10" y="554.88" width="12.30" height="7.17" fill="#d7564a"/>
<rect x="202.40" y="554.88" width="12.30" height="7.17" fill="#f7bfa6"/>
<rect x="214.70" y="554.88" width="12.30" height="7.17" fill="#f0ddd3"/>
<rect x="42.50" y="562.04" width="12.30" height="7.17" fill="#94c4e3"/>
<rect x="54.80" y="562.04" width="12.30" height="7.17" fill="#4b92c9"/>
<rect x="67.10" y="562.04" width="12.30" height="7.17" fill="#f8cab3"/>
<rect x="79.40" y="562.04" width="12.30" height="7.17" fill="#f9cfba"/>
<rect x="91.70" y="562.04" width="12.30" height="7.17" fill="#f7bfa6"/>
<rect x="104.00" y="562.04" width="12.30" height="7.17" fill="#2266a9"/>
<rect x="116.30" y="562.04" width="12.30" height="7.17" fill="#94c4e3"/>
<rect x="128.60" y="562.04" width="12.30" height="7.17" fill="#86bce0"/>
<rect x="140.90" y="562.04" width="12.30" height="7.17" fill="#f8cab3"/>
<rect x="153.20" y="562.04" width="12.30" height="7.17" fill="#e4765c"/>
<rect x="165.50" y="562.04" width="12.30" height="7.17" fill="#eddfd7"/>
<rect x="177.80" y="562.04" width="12.30" height="7.17" fill="#f7bfa6"/>
<rect x="190.10" y="562.04" width="12.30" height="7.17" fill="#eb8b6e"/>
<rect x="202.40" y="562.04" width="12.30" height="7.17" fill="#f9cfba"/>
<rect x="214.70" y="562.04" width="12.30" height="7.17" fill="#eae0db"/>
<rect x="42.50" y="569.21" width="12.30" height="7.17" fill="#afd3e9"/>
<rect x="54.80" y="569.21" width="12.30" height="7.17" fill="#68a7d4"/>
<rect x="67.10" y="569.21" width="12.30" height="7.17" fill="#f7dbcc"/>
<rect x="79.40" y="569.21" width="12.30" height="7.17" fill="#f9d5c1"/>
<rect x="91.70" y="569.21" width="12.30" height="7.17" fill="#f9cfba"/>
<rect x="104.00" y="569.21" width="12.30" height="7.17" fill="#0b3671"/>
<rect x="116.30" y="569.21" width="12.30" height="7.17" fill="#dfe2e4"/>
<rect x="128.60" y="569.21" width="12.30" height="7.17" fill="#a2cce6"/>
<rect x="140.90" y="569.21" width="12.30" height="7.17" fill="#bddbec"/>
<rect x="153.20" y="569.21" width="12.30" height="7.17" fill="#e4765c"/>
<rect x="165.50" y="569.21" width="12.30" height="7.17" fill="#f6b598"/>
<rect x="177.80" y="569.21" width="12.30" height="7.17" fill="#f6b598"/>
<rect x="190.10" y="569.21" width="12.30" height="7.17" fill="#eb8b6e"/>
<rect x="202.40" y="569.21" width="12.30" height="7.17" fill="#f8cab3"/>
<rect x="214.70" y="569.21" width="12.30" height="7.17" fill="#e3e2e2"/>
<rect x="42.50" y="576.38" width="12.30" height="7.17" fill="#c8dfec"/>
<rect x="54.80" y="576.38" width="12.30" height="7.17" fill="#3c88c3"/>
<rect x="67.10" y="576.38" width="12.30" height="7.17" fill="#f2a081"/>
<rect x="79.40" y="576.38" width="12.30" height="7.17" fill="#f3dccf"/>
<rect x="91.70" y="576.38" width="12.30" height="7.17" fill="#f9d5c1"/>
<rect x="104.00" y="576.38" width="12.30" height="7.17" fill="#2266a9"/>
<rect x="116.30" y="576.38" width="12.30" height="7.17" fill="#bddbec"/>
<rect x="128.60" y="576.38" width="12.30" height="7.17" fill="#a2cce6"/>
<rect x="140.90" y="576.38" width="12.30" height="7.17" fill="#bddbec"/>
<rect x="153.20" y="576.38" width="12.30" height="7.17" fill="#d7564a"/>
<rect x="165.50" y="576.38" width="12.30" height="7.17" fill="#f3a585"/>
<rect x="177.80" y="576.38" width="12.30" height="7.17" fill="#f8cab3"/>
<rect x="190.10" y="576.38" width="12.30" height="7.17" fill="#ee9578"/>
<rect x="202.40" y="576.38" width="12.30" height="7.17" fill="#f9cfba"/>
<rect x="214.70" y="576.38" width="12.30" height="7.17" fill="#d1e0e9"/>
<rect x="42.50" y="583.54" width="12.30" height="7.17" fill="#68a7d4"/>
<rect x="54.80" y="583.54" width="12.30" height="7.17" fill="#77b2da"/>
<rect x="67.10" y="583.54" width="12.30" height="7.17" fill="#f9d5c1"/>
<rect x="79.40" y="583.54" width="12.30" height="7.17" fill="#f9d5c1"/>
<rect x="91.70" y="583.54" width="12.30" height="7.17" fill="#f6b598"/>
<rect x="104.00" y="583.54" width="12.30" height="7.17" fill="#1d5fa3"/>
<rect x="116.30" y="583.54" width="12.30" height="7.17" fill="#c8dfec"/>
<rect x="128.60" y="583.54" width="12.30" height="7.17" fill="#86bce0"/>
<rect x="140.90" y="583.54" width="12.30" height="7.17" fill="#e3e2e2"/>
<rect x="153.20" y="583.54" width="12.30" height="7.17" fill="#eb8b6e"/>
<rect x="165.50" y="583.54" width="12.30" height="7.17" fill="#f8cab3"/>
<rect x="177.80" y="583.54" width="12.30" height="7.17" fill="#f7bfa6"/>
<rect x="190.10" y="583.54" width="12.30" height="7.17" fill="#e4765c"/>
<rect x="202.40" y="583.54" width="12.30" height="7.17" fill="#f6b598"/>
<rect x="214.70" y="583.54" width="12.30" height="7.17" fill="#e3e2e2"/>
<rect x="42.50" y="590.70" width="12.30" height="7.17" fill="#5a9dcf"/>
<rect x="54.80" y="590.70" width="12.30" height="7.17" fill="#4b92c9"/>
<rect x="67.10" y="590.70" width="12.30" height="7.17" fill="#f5aa8a"/>
<rect x="79.40" y="590.70" width="12.30" height="7.17" fill="#f7dbcc"/>
<rect x="91.70" y="590.70" width="12.30" height="7.17" fill="#f7bfa6"/>
<rect x="104.00" y="590.70" width="12.30" height="7.17" fill="#2266a9"/>
<rect x="116.30" y="590.70" width="12.30" height="7.17" fill="#c8dfec"/>
<rect x="128.60" y="590.70" width="12.30" height="7.17" fill="#afd3e9"/>
<rect x="140.90" y="590.70" width="12.30" height="7.17" fill="#d1e0e9"/>
<rect x="153.20" y="590.70" width="12.30" height="7.17" fill="#f2a081"/>
<rect x="165.50" y="590.70" width="12.30" height="7.17" fill="#f8cab3"/>
<rect x="177.80" y="590.70" width="12.30" height="7.17" fill="#f6b598"/>
<rect x="190.10" y="590.70" width="12.30" height="7.17" fill="#e4765c"/>
<rect x="202.40" y="590.70" width="12.30" height="7.17" fill="#f3dccf"/>
<rect x="214.70" y="590.70" width="12.30" height="7.17" fill="#dae1e5"/>
<rect x="42.50" y="597.87" width="12.30" height="7.17" fill="#d1e0e9"/>
<rect x="54.80" y="597.87" width="12.30" height="7.17" fill="#68a7d4"/>
<rect x="67.10" y="597.87" width="12.30" height="7.17" fill="#f7bfa6"/>
<rect x="79.40" y="597.87" width="12.30" height="7.17" fill="#f8cab3"/>
<rect x="91.70" y="597.87" width="12.30" height="7.17" fill="#bddbec"/>
<rect x="104.00" y="597.87" width="12.30" height="7.17" fill="#327ab8"/>
<rect x="116.30" y="597.87" width="12.30" height="7.17" fill="#afd3e9"/>
<rect x="128.60" y="597.87" width="12.30" height="7.17" fill="#afd3e9"/>
<rect x="140.90" y="597.87" width="12.30" height="7.17" fill="#c8dfec"/>
<rect x="153.20" y="597.87" width="12.30" height="7.17" fill="#f09a7c"/>
<rect x="165.50" y="597.87" width="12.30" height="7.17" fill="#b6d7eb"/>
<rect x="177.80" y="597.87" width="12.30" height="7.17" fill="#f2a081"/>
<rect x="190.10" y="597.87" width="12.30" height="7.17" fill="#ca383a"/>
<rect x="202.40" y="597.87" width="12.30" height="7.17" fill="#dc6050"/>
<rect x="214.70" y="597.87" width="12.30" height="7.17" fill="#a2cce6"/>
<rect x="42.50" y="605.03" width="12.30" height="7.17" fill="#94c4e3"/>
<rect x="54.80" y="605.03" width="12.30" height="7.17" fill="#3c88c3"/>
<rect x="67.10" y="605.03" width="12.30" height="7.17" fill="#d6e1e7"/>
<rect x="79.40" y="605.03" width="12.30" height="7.17" fill="#f5aa8a"/>
<rect x="91.70" y="605.03" width="12.30" height="7.17" fill="#e3e2e2"/>
<rect x="104.00" y="605.03" width="12.30" height="7.17" fill="#4b92c9"/>
<rect x="116.30" y="605.03" width="12.30" height="7.17" fill="#afd3e9"/>
<rect x="128.60" y="605.03" width="12.30" height="7.17" fill="#68a7d4"/>
<rect x="140.90" y="605.03" width="12.30" height="7.17" fill="#cde0eb"/>
<rect x="153.20" y="605.03" width="12.30" height="7.17" fill="#e4765c"/>
<rect x="165.50" y="605.03" width="12.30" height="7.17" fill="#f8cab3"/>
<rect x="177.80" y="605.03" width="12.30" height="7.17" fill="#f9cfba"/>
<rect x="190.10" y="605.03" width="12.30" height="7.17" fill="#d7564a"/>
<rect x="202.40" y="605.03" width="12.30" height="7.17" fill="#cf403e"/>
<rect x="214.70" y="605.03" width="12.30" height="7.17" fill="#b6d7eb"/>
<rect x="42.50" y="612.20" width="12.30" height="7.17" fill="#86bce0"/>
<rect x="54.80" y="612.20" width="12.30" height="7.17" fill="#86bce0"/>
<rect x="67.10" y="612.20" width="12.30" height="7.17" fill="#f7dbcc"/>
<rect x="79.40" y="612.20" width="12.30" height="7.17" fill="#f5aa8a"/>
<rect x="91.70" y="612.20" width="12.30" height="7.17" fill="#e6e1de"/>
<rect x="104.00" y="612.20" width="12.30" height="7.17" fill="#3781be"/>
<rect x="116.30" y="612.20" width="12.30" height="7.17" fill="#c8dfec"/>
<rect x="128.60" y="612.20" width="12.30" height="7.17" fill="#94c4e3"/>
<rect x="140.90" y="612.20" width="12.30" height="7.17" fill="#a2cce6"/>
<rect x="153.20" y="612.20" width="12.30" height="7.17" fill="#f8cab3"/>
<rect x="165.50" y="612.20" width="12.30" height="7.17" fill="#f9cfba"/>
<rect x="177.80" y="612.20" width="12.30" height="7.17" fill="#f5aa8a"/>
<rect x="190.10" y="612.20" width="12.30" height="7.17" fill="#c63035"/>
<rect x="202.40" y="612.20" width="12.30" height="7.17" fill="#d7564a"/>
<rect x="214.70" y="612.20" width="12.30" height="7.17" fill="#a8cfe8"/>
<rect x="42.50" y="619.37" width="12.30" height="7.17" fill="#94c4e3"/>
<rect x="54.80" y="619.37" width="12.30" height="7.17" fill="#a2cce6"/>
<rect x="67.10" y="619.37" width="12.30" height="7.17" fill="#f9cfba"/>
<rect x="79.40" y="619.37" width="12.30" height="7.17" fill="#f3a585"/>
<rect x="91.70" y="619.37" width="12.30" height="7.17" fill="#e6e1de"/>
<rect x="104.00" y="619.37" width="12.30" height="7.17" fill="#2266a9"/>
<rect x="116.30" y="619.37" width="12.30" height="7.17" fill="#afd3e9"/>
<rect x="128.60" y="619.37" width="12.30" height="7.17" fill="#94c4e3"/>
<rect x="140.90" y="619.37" width="12.30" height="7.17" fill="#c4dfee"/>
<rect x="153.20" y="619.37" width="12.30" height="7.17" fill="#e3e2e2"/>
<rect x="165.50" y="619.37" width="12.30" height="7.17" fill="#f7bfa6"/>
<rect x="177.80" y="619.37" width="12.30" height="7.17" fill="#f9d5c1"/>
<rect x="190.10" y="619.37" width="12.30" height="7.17" fill="#d7564a"/>
<rect x="202.40" y="619.37" width="12.30" height="7.17" fill="#c63035"/>
<rect x="214.70" y="619.37" width="12.30" height="7.17" fill="#cde0eb"/>
<rect x="42.50" y="626.53" width="12.30" height="7.17" fill="#afd3e9"/>
<rect x="54.80" y="626.53" width="12.30" height="7.17" fill="#4b92c9"/>
<rect x="67.10" y="626.53" width="12.30" height="7.17" fill="#e6e1de"/>
<rect x="79.40" y="626.53" width="12.30" height="7.17" fill="#d1e0e9"/>
<rect x="91.70" y="626.53" width="12.30" height="7.17" fill="#f8cab3"/>
<rect x="104.00" y="626.53" width="12.30" height="7.17" fill="#1d5fa3"/>
<rect x="116.30" y="626.53" width="12.30" height="7.17" fill="#afd3e9"/>
<rect x="128.60" y="626.53" width="12.30" height="7.17" fill="#c8dfec"/>
<rect x="140.90" y="626.53" width="12.30" height="7.17" fill="#c8dfec"/>
<rect x="153.20" y="626.53" width="12.30" height="7.17" fill="#eddfd7"/>
<rect x="165.50" y="626.53" width="12.30" height="7.17" fill="#f6af91"/>
<rect x="177.80" y="626.53" width="12.30" height="7.17" fill="#eb8b6e"/>
<rect x="190.10" y="626.53" width="12.30" height="7.17" fill="#ca383a"/>
<rect x="202.40" y="626.53" width="12.30" height="7.17" fill="#f5aa8a"/>
<rect x="214.70" y="626.53" width="12.30" height="7.17" fill="#eae0db"/>
<rect x="42.50" y="633.69" width="12.30" height="7.17" fill="#afd3e9"/>
<rect x="54.80" y="633.69" width="12.30" height="7.17" fill="#4b92c9"/>
<rect x="67.10" y="633.69" width="12.30" height="7.17" fill="#eddfd7"/>
<rect x="79.40" y="633.69" width="12.30" height="7.17" fill="#d1e0e9"/>
<rect x="91.70" y="633.69" width="12.30" height="7.17" fill="#f7bfa6"/>
<rect x="104.00" y="633.69" width="12.30" height="7.17" fill="#18589e"/>
<rect x="116.30" y="633.69" width="12.30" height="7.17" fill="#dfe2e4"/>
<rect x="128.60" y="633.69" width="12.30" height="7.17" fill="#bddbec"/>
<rect x="140.90" y="633.69" width="12.30" height="7.17" fill="#c8dfec"/>
<rect x="153.20" y="633.69" width="12.30" height="7.17" fill="#e6e1de"/>
<rect x="165.50" y="633.69" width="12.30" height="7.17" fill="#f2a081"/>
<rect x="177.80" y="633.69" width="12.30" height="7.17" fill="#eb8b6e"/>
<rect x="190.10" y="633.69" width="12.30" height="7.17" fill="#cf403e"/>
<rect x="202.40" y="633.69" width="12.30" height="7.17" fill="#f5aa8a"/>
<rect x="214.70" y="633.69" width="12.30" height="7.17" fill="#d1e0e9"/>
<rect x="42.50" y="640.86" width="12.30" height="7.17" fill="#a2cce6"/>
<rect x="54.80" y="640.86" width="12.30" height="7.17" fill="#94c4e3"/>
<rect x="67.10" y="640.86" width="12.30" height="7.17" fill="#d1e0e9"/>
<rect x="79.40" y="640.86" width="12.30" height="7.17" fill="#f8cab3"/>
<rect x="91.70" y="640.86" width="12.30" height="7.17" fill="#f9cfba"/>
<rect x="104.00" y="640.86" width="12.30" height="7.17" fill="#092f68"/>
<rect x="116.30" y="640.86" width="12.30" height="7.17" fill="#e3e2e2"/>
<rect x="128.60" y="640.86" width="12.30" height="7.17" fill="#a2cce6"/>
<rect x="140.90" y="640.86" width="12.30" height="7.17" fill="#a8cfe8"/>
<rect x="153.20" y="640.86" width="12.30" height="7.17" fill="#f6b598"/>
<rect x="165.50" y="640.86" width="12.30" height="7.17" fill="#f7bfa6"/>
<rect x="177.80" y="640.86" width="12.30" height="7.17" fill="#f3a585"/>
<rect x="190.10" y="640.86" width="12.30" height="7.17" fill="#d34b44"/>
<rect x="202.40" y="640.86" width="12.30" height="7.17" fill="#f5aa8a"/>
<rect x="214.70" y="640.86" width="12.30" height="7.17" fill="#e6e1de"/>
<rect x="42.50" y="648.02" width="12.30" height="7.17" fill="#86bce0"/>
<rect x="54.80" y="648.02" width="12.30" height="7.17" fill="#77b2da"/>
<rect x="67.10" y="648.02" width="12.30" height="7.17" fill="#c8dfec"/>
<rect x="79.40" y="648.02" width="12.30" height="7.17" fill="#f8cab3"/>
<rect x="91.70" y="648.02" width="12.30" height="7.17" fill="#f2a081"/>
<rect x="104.00" y="648.02" width="12.30" height="7.17" fill="#3781be"/>
<rect x="116.30" y="648.02" width="12.30" height="7.17" fill="#e6e1de"/>
<rect x="128.60" y="648.02" width="12.30" height="7.17" fill="#68a7d4"/>
<rect x="140.90" y="648.02" width="12.30" height="7.17" fill="#c4dfee"/>
<rect x="153.20" y="648.02" width="12.30" height="7.17" fill="#f6b598"/>
<rect x="165.50" y="648.02" width="12.30" height="7.17" fill="#f7ba9f"/>
<rect x="177.80" y="648.02" width="12.30" height="7.17" fill="#f7bfa6"/>
<rect x="190.10" y="648.02" width="12.30" height="7.17" fill="#d34b44"/>
<rect x="202.40" y="648.02" width="12.30" height="7.17" fill="#f09a7c"/>
<rect x="214.70" y="648.02" width="12.30" height="7.17" fill="#eae0db"/>
<rect x="42.50" y="655.19" width="12.30" height="7.17" fill="#94c4e3"/>
<rect x="54.80" y="655.19" width="12.30" height="7.17" fill="#86bce0"/>
<rect x="67.10" y="655.19" width="12.30" height="7.17" fill="#fadac8"/>
<rect x="79.40" y="655.19" width="12.30" height="7.17" fill="#f9cfba"/>
<rect x="91.70" y="655.19" width="12.30" height="7.17" fill="#f8c5ac"/>
<rect x="104.00" y="655.19" width="12.30" height="7.17" fill="#2266a9"/>
<rect x="116.30" y="655.19" width="12.30" height="7.17" fill="#e6e1de"/>
<rect x="128.60" y="655.19" width="12.30" height="7.17" fill="#a2cce6"/>
<rect x="140.90" y="655.19" width="12.30" height="7.17" fill="#a8cfe8"/>
<rect x="153.20" y="655.19" width="12.30" height="7.17" fill="#f2a081"/>
<rect x="165.50" y="655.19" width="12.30" height="7.17" fill="#f6b598"/>
<rect x="177.80" y="655.19" width="12.30" height="7.17" fill="#f3dccf"/>
<rect x="190.10" y="655.19" width="12.30" height="7.17" fill="#c63035"/>
<rect x="202.40" y="655.19" width="12.30" height="7.17" fill="#f6af91"/>
<rect x="214.70" y="655.19" width="12.30" height="7.17" fill="#eae0db"/>
<path d="M42.50,468.90V662.36M54.80,468.90V662.36M67.10,468.90V662.36M79.40,468.90V662.36M91.70,468.90V662.36M104.00,468.90V662.36M116.30,468.90V662.36M128.60,468.90V662.36M140.90,468.90V662.36M153.20,468.90V662.36M165.50,468.90V662.36M177.80,468.90V662.36M190.10,468.90V662.36M202.40,468.90V662.36M214.70,468.90V662.36M227.00,468.90V662.36M42.50,468.90H227.00M42.50,476.06H227.00M42.50,483.23H227.00M42.50,490.39H227.00M42.50,497.56H227.00M42.50,504.72H227.00M42.50,511.89H227.00M42.50,519.05H227.00M42.50,526.22H227.00M42.50,533.38H227.00M42.50,540.55H227.00M42.50,547.71H227.00M42.50,554.88H227.00M42.50,562.04H227.00M42.50,569.21H227.00M42.50,576.38H227.00M42.50,583.54H227.00M42.50,590.70H227.00M42.50,597.87H227.00M42.50,605.03H227.00M42.50,612.20H227.00M42.50,619.37H227.00M42.50,626.53H227.00M42.50,633.69H227.00M42.50,640.86H227.00M42.50,648.02H227.00M42.50,655.19H227.00M42.50,662.36H227.00" stroke="#a8a8a8" stroke-width="0.5" fill="none"/>
<text x="230.90" y="476.08" font-size="6.8" textLength="18.20" lengthAdjust="spacingAndGlyphs" style="stroke-width:0.04px">cAMP</text>
<text x="230.90" y="483.25" font-size="6.8" textLength="21.40" lengthAdjust="spacingAndGlyphs" style="stroke-width:0.04px">Uridine</text>
<text x="230.90" y="490.41" font-size="6.8" textLength="20.90" lengthAdjust="spacingAndGlyphs" style="stroke-width:0.04px">Inosine</text>
<text x="230.90" y="497.58" font-size="6.8" textLength="13.30" lengthAdjust="spacingAndGlyphs" style="stroke-width:0.04px">FAD</text>
<text x="230.90" y="504.74" font-size="6.8" textLength="56.00" lengthAdjust="spacingAndGlyphs" style="stroke-width:0.04px">Pentose-phosphate</text>
<text x="230.90" y="511.91" font-size="6.8" textLength="31.10" lengthAdjust="spacingAndGlyphs" style="stroke-width:0.04px">Adenosine</text>
<text x="230.90" y="519.07" font-size="6.8" textLength="23.00" lengthAdjust="spacingAndGlyphs" style="stroke-width:0.04px">NADPH</text>
<text x="230.90" y="526.24" font-size="6.8" textLength="19.30" lengthAdjust="spacingAndGlyphs" style="stroke-width:0.04px">NADH</text>
<text x="230.90" y="533.40" font-size="6.8" textLength="76.70" lengthAdjust="spacingAndGlyphs" style="stroke-width:0.04px">Fructose-1,6-bisphosphate</text>
<text x="230.90" y="540.57" font-size="6.8" textLength="54.40" lengthAdjust="spacingAndGlyphs" style="stroke-width:0.04px">Hexose-phosphate</text>
<text x="230.90" y="547.73" font-size="6.8" textLength="68.60" lengthAdjust="spacingAndGlyphs" style="stroke-width:0.04px">N-acetylneuraminic acid</text>
<text x="230.90" y="554.90" font-size="6.8" textLength="15.30" lengthAdjust="spacingAndGlyphs" style="stroke-width:0.04px">GMP</text>
<text x="230.90" y="562.06" font-size="6.8" textLength="39.50" lengthAdjust="spacingAndGlyphs" style="stroke-width:0.04px">Glutamic acid</text>
<text x="230.90" y="569.23" font-size="6.8" textLength="82.40" lengthAdjust="spacingAndGlyphs" style="stroke-width:0.04px">D-Glucosamine-6-phosphate</text>
<text x="230.90" y="576.39" font-size="6.8" textLength="60.50" lengthAdjust="spacingAndGlyphs" style="stroke-width:0.04px">Argininosuccinic acid</text>
<text x="230.90" y="583.56" font-size="6.8" textLength="13.70" lengthAdjust="spacingAndGlyphs" style="stroke-width:0.04px">TMP</text>
<text x="230.90" y="590.72" font-size="6.8" textLength="53.20" lengthAdjust="spacingAndGlyphs" style="stroke-width:0.04px">2-Oxoglutaric acid</text>
<text x="230.90" y="597.89" font-size="6.8" textLength="72.20" lengthAdjust="spacingAndGlyphs" style="stroke-width:0.04px">S-Adenosylhomocysteine</text>
<text x="230.90" y="605.05" font-size="6.8" textLength="13.10" lengthAdjust="spacingAndGlyphs" style="stroke-width:0.04px">TDP</text>
<text x="230.90" y="612.22" font-size="6.8" textLength="14.80" lengthAdjust="spacingAndGlyphs" style="stroke-width:0.04px">UMP</text>
<text x="230.90" y="619.38" font-size="6.8" textLength="13.90" lengthAdjust="spacingAndGlyphs" style="stroke-width:0.04px">UDP</text>
<text x="230.90" y="626.55" font-size="6.8" textLength="13.90" lengthAdjust="spacingAndGlyphs" style="stroke-width:0.04px">GDP</text>
<text x="230.90" y="633.71" font-size="6.8" textLength="32.10" lengthAdjust="spacingAndGlyphs" style="stroke-width:0.04px">Orotic acid</text>
<text x="230.90" y="640.88" font-size="6.8" textLength="16.50" lengthAdjust="spacingAndGlyphs" style="stroke-width:0.04px">Uracil</text>
<text x="230.90" y="648.04" font-size="6.8" textLength="67.60" lengthAdjust="spacingAndGlyphs" style="stroke-width:0.04px">Carbamoylaspartic acid</text>
<text x="230.90" y="655.21" font-size="6.8" textLength="14.80" lengthAdjust="spacingAndGlyphs" style="stroke-width:0.04px">CMP</text>
<text x="230.90" y="662.37" font-size="6.8" textLength="59.40" lengthAdjust="spacingAndGlyphs" style="stroke-width:0.04px">UDP-Glucuronic acid</text>
<defs><linearGradient id="cb" x1="0" y1="0" x2="0" y2="1"><stop offset="0.0000" stop-color="#710421"/><stop offset="0.0841" stop-color="#bc202c"/><stop offset="0.1606" stop-color="#cf403e"/><stop offset="0.2562" stop-color="#e4765c"/><stop offset="0.3518" stop-color="#f5aa8a"/><stop offset="0.4379" stop-color="#fadac8"/><stop offset="0.5048" stop-color="#e3e2e2"/><stop offset="0.5717" stop-color="#c4dfee"/><stop offset="0.6577" stop-color="#86bce0"/><stop offset="0.7533" stop-color="#3c88c3"/><stop offset="0.8872" stop-color="#18589e"/><stop offset="1.0000" stop-color="#093069"/></linearGradient></defs>
<rect x="316.30" y="469.70" width="5.70" height="76.90" fill="url(#cb)"/>
<text x="324.90" y="481.60" font-size="7.3">2</text>
<text x="324.90" y="496.30" font-size="7.3">1</text>
<text x="324.90" y="511.00" font-size="7.3">0</text>
<text x="324.90" y="525.70" font-size="7.3">−1</text>
<text x="324.90" y="540.40" font-size="7.3">−2</text>
<path d="M42.50,479.65H35.20V486.81H42.50M42.50,472.48H33.10V483.23H35.20M42.50,493.98H36.50V501.14H42.50M42.50,508.31H39.00V515.47H42.50M39.00,511.89H35.00V522.64H42.50M36.50,497.56H33.50V517.26H35.00M42.50,529.80H39.00V536.97H42.50M42.50,551.30H39.50V558.46H42.50M42.50,544.13H37.00V554.88H39.50M39.00,533.38H35.40V549.51H37.00M42.50,565.63H39.50V572.79H42.50M42.50,579.96H39.00V587.12H42.50M39.50,569.21H37.00V583.54H39.00M37.00,576.38H37.50V594.29H42.50M42.50,601.45H39.50V608.62H42.50M42.50,615.78H39.00V622.95H42.50M39.50,605.03H37.00V619.37H39.00M37.50,585.33H36.50V612.20H37.00M42.50,630.11H39.60V637.28H42.50M42.50,651.61H39.50V658.77H42.50M42.50,644.44H37.00V655.19H39.50M39.60,633.69H35.40V649.82H37.00M36.50,598.77H33.30V641.76H35.40M35.40,541.45H31.20V620.26H33.30M33.50,507.41H28.50V580.85H31.20M33.10,477.86H20.10V544.13H28.50" stroke="#333333" stroke-width="0.6" fill="none"/>
<text x="354.60" y="454.53" font-size="11.5" font-weight="bold">E</text>
<line x1="389.60" y1="494.20" x2="392.70" y2="494.20" stroke="#231f20" stroke-width="1.0"/>
<line x1="389.60" y1="520.40" x2="392.70" y2="520.40" stroke="#231f20" stroke-width="1.0"/>
<line x1="389.60" y1="546.20" x2="392.70" y2="546.20" stroke="#231f20" stroke-width="1.0"/>
<line x1="389.60" y1="572.20" x2="392.70" y2="572.20" stroke="#231f20" stroke-width="1.0"/>
<text x="367.45" y="496.80" font-size="7.3" textLength="20.70" lengthAdjust="spacingAndGlyphs">0.001</text>
<text x="372.65" y="523.00" font-size="7.3" textLength="15.50" lengthAdjust="spacingAndGlyphs">0.01</text>
<text x="376.75" y="548.80" font-size="7.3" textLength="11.40" lengthAdjust="spacingAndGlyphs">0.1</text>
<text x="384.85" y="574.80" font-size="7.3" textLength="3.30" lengthAdjust="spacingAndGlyphs">1</text>
<line x1="392.55" y1="572.20" x2="392.55" y2="575.00" stroke="#231f20" stroke-width="1.0"/>
<text x="388.00" y="584.60" font-size="7.3" textLength="9.00" lengthAdjust="spacingAndGlyphs">−3</text>
<line x1="416.00" y1="572.20" x2="416.00" y2="575.00" stroke="#231f20" stroke-width="1.0"/>
<text x="411.45" y="584.60" font-size="7.3" textLength="9.00" lengthAdjust="spacingAndGlyphs">−2</text>
<line x1="439.45" y1="572.20" x2="439.45" y2="575.00" stroke="#231f20" stroke-width="1.0"/>
<text x="434.90" y="584.60" font-size="7.3" textLength="9.00" lengthAdjust="spacingAndGlyphs">−1</text>
<line x1="462.90" y1="572.20" x2="462.90" y2="575.00" stroke="#231f20" stroke-width="1.0"/>
<text x="460.55" y="584.60" font-size="7.3" textLength="4.70" lengthAdjust="spacingAndGlyphs">0</text>
<line x1="486.35" y1="572.20" x2="486.35" y2="575.00" stroke="#231f20" stroke-width="1.0"/>
<text x="484.00" y="584.60" font-size="7.3" textLength="4.70" lengthAdjust="spacingAndGlyphs">1</text>
<line x1="509.80" y1="572.20" x2="509.80" y2="575.00" stroke="#231f20" stroke-width="1.0"/>
<text x="507.45" y="584.60" font-size="7.3" textLength="4.70" lengthAdjust="spacingAndGlyphs">2</text>
<text transform="translate(362.30,531.70) rotate(-90)" x="0" y="0" font-size="10.0" text-anchor="middle" textLength="24.70" lengthAdjust="spacingAndGlyphs"><tspan font-style="italic">p</tspan>-value</text>
<text x="425.25" y="596.60" font-size="8.4" textLength="10.10" lengthAdjust="spacingAndGlyphs">log</text>
<text x="435.05" y="599.80" font-size="5.6" textLength="4.00" lengthAdjust="spacingAndGlyphs">2</text>
<text x="440.90" y="596.60" font-size="8.4" textLength="39.20" lengthAdjust="spacingAndGlyphs">fold change</text>
<line x1="463.10" y1="493.80" x2="463.10" y2="572.20" stroke="#231f20" stroke-width="1.3" stroke-dasharray="2,2.3"/>
<line x1="394.70" y1="538.30" x2="510.40" y2="538.30" stroke="#231f20" stroke-width="1.1" stroke-dasharray="2.3,1.9"/>
<circle cx="403.50" cy="561.50" r="1.6" fill="#cf0a2c"/>
<circle cx="438.80" cy="563.90" r="1.6" fill="#cf0a2c"/>
<circle cx="444.70" cy="553.00" r="1.6" fill="#cf0a2c"/>
<circle cx="477.80" cy="503.20" r="1.6" fill="#cf0a2c"/>
<circle cx="476.20" cy="516.20" r="1.6" fill="#cf0a2c"/>
<circle cx="479.20" cy="519.60" r="1.6" fill="#cf0a2c"/>
<circle cx="480.40" cy="520.80" r="1.6" fill="#cf0a2c"/>
<circle cx="472.40" cy="521.20" r="1.6" fill="#cf0a2c"/>
<circle cx="473.90" cy="521.20" r="1.6" fill="#cf0a2c"/>
<circle cx="486.80" cy="524.70" r="1.6" fill="#cf0a2c"/>
<circle cx="503.20" cy="526.10" r="1.6" fill="#cf0a2c"/>
<circle cx="471.20" cy="525.30" r="1.6" fill="#cf0a2c"/>
<circle cx="476.20" cy="524.70" r="1.6" fill="#cf0a2c"/>
<circle cx="474.70" cy="528.40" r="1.6" fill="#cf0a2c"/>
<circle cx="477.00" cy="528.80" r="1.6" fill="#cf0a2c"/>
<circle cx="470.80" cy="531.50" r="1.6" fill="#cf0a2c"/>
<circle cx="470.40" cy="533.90" r="1.6" fill="#cf0a2c"/>
<circle cx="482.70" cy="535.00" r="1.6" fill="#cf0a2c"/>
<circle cx="483.90" cy="534.20" r="1.6" fill="#cf0a2c"/>
<circle cx="471.60" cy="536.50" r="1.6" fill="#cf0a2c"/>
<circle cx="475.80" cy="535.80" r="1.6" fill="#cf0a2c"/>
<circle cx="476.50" cy="538.10" r="1.6" fill="#cf0a2c"/>
<circle cx="474.20" cy="538.50" r="1.6" fill="#cf0a2c"/>
<circle cx="469.60" cy="539.60" r="1.6" fill="#cf0a2c"/>
<circle cx="478.80" cy="539.20" r="1.6" fill="#cf0a2c"/>
<circle cx="479.60" cy="541.20" r="1.6" fill="#cf0a2c"/>
<circle cx="474.20" cy="541.60" r="1.6" fill="#cf0a2c"/>
<circle cx="469.20" cy="543.20" r="1.6" fill="#cf0a2c"/>
<circle cx="468.80" cy="545.80" r="1.6" fill="#cf0a2c"/>
<circle cx="471.20" cy="546.50" r="1.6" fill="#cf0a2c"/>
<circle cx="479.60" cy="547.00" r="1.6" fill="#cf0a2c"/>
<circle cx="480.70" cy="548.40" r="1.6" fill="#cf0a2c"/>
<circle cx="485.30" cy="547.00" r="1.6" fill="#cf0a2c"/>
<circle cx="468.10" cy="548.10" r="1.6" fill="#cf0a2c"/>
<circle cx="472.70" cy="548.40" r="1.6" fill="#cf0a2c"/>
<circle cx="474.50" cy="549.90" r="1.6" fill="#cf0a2c"/>
<circle cx="445.50" cy="552.70" r="1.6" fill="#cf0a2c"/>
<circle cx="467.30" cy="552.70" r="1.6" fill="#cf0a2c"/>
<circle cx="469.60" cy="552.70" r="1.6" fill="#cf0a2c"/>
<circle cx="470.80" cy="553.50" r="1.6" fill="#cf0a2c"/>
<circle cx="451.20" cy="555.00" r="1.6" fill="#cf0a2c"/>
<circle cx="449.90" cy="556.10" r="1.6" fill="#cf0a2c"/>
<circle cx="455.30" cy="556.50" r="1.6" fill="#cf0a2c"/>
<circle cx="485.00" cy="555.80" r="1.6" fill="#cf0a2c"/>
<circle cx="468.10" cy="556.10" r="1.6" fill="#cf0a2c"/>
<circle cx="473.50" cy="557.30" r="1.6" fill="#cf0a2c"/>
<circle cx="471.90" cy="558.50" r="1.6" fill="#cf0a2c"/>
<circle cx="457.80" cy="559.30" r="1.6" fill="#cf0a2c"/>
<circle cx="459.30" cy="560.80" r="1.6" fill="#cf0a2c"/>
<circle cx="465.80" cy="559.60" r="1.6" fill="#cf0a2c"/>
<circle cx="469.60" cy="560.40" r="1.6" fill="#cf0a2c"/>
<circle cx="465.80" cy="561.50" r="1.6" fill="#cf0a2c"/>
<circle cx="471.20" cy="561.90" r="1.6" fill="#cf0a2c"/>
<circle cx="481.20" cy="563.00" r="1.6" fill="#cf0a2c"/>
<circle cx="468.10" cy="563.80" r="1.6" fill="#cf0a2c"/>
<circle cx="460.40" cy="565.50" r="1.6" fill="#cf0a2c"/>
<circle cx="458.80" cy="566.50" r="1.6" fill="#cf0a2c"/>
<circle cx="466.50" cy="566.20" r="1.6" fill="#cf0a2c"/>
<circle cx="458.10" cy="568.80" r="1.6" fill="#cf0a2c"/>
<circle cx="459.90" cy="569.60" r="1.6" fill="#cf0a2c"/>
<circle cx="464.20" cy="568.10" r="1.6" fill="#cf0a2c"/>
<circle cx="461.90" cy="570.40" r="1.6" fill="#cf0a2c"/>
<circle cx="463.50" cy="571.90" r="1.6" fill="#cf0a2c"/>
<circle cx="465.80" cy="566.50" r="1.6" fill="#cf0a2c"/>
<line x1="392.70" y1="491.50" x2="392.70" y2="572.80" stroke="#231f20" stroke-width="1.2"/>
<line x1="392.10" y1="572.20" x2="512.70" y2="572.20" stroke="#231f20" stroke-width="1.2"/>
<line x1="397.00" y1="603.00" x2="450.60" y2="603.00" stroke="#231f20" stroke-width="1.3"/>
<polygon points="392.70,603.00 398.30,600.30 398.30,605.70" fill="#231f20"/>
<line x1="455.70" y1="603.00" x2="507.50" y2="603.00" stroke="#231f20" stroke-width="1.3"/>
<polygon points="512.60,603.00 507.00,605.70 507.00,600.30" fill="#231f20"/>
<text x="396.35" y="615.80" font-size="8.0" textLength="50.80" lengthAdjust="spacingAndGlyphs">Depleted with</text>
<text x="393.35" y="625.60" font-size="8.0" textLength="56.20" lengthAdjust="spacingAndGlyphs">MDM2 inhibitor</text>
<text x="459.75" y="615.80" font-size="8.0" textLength="48.70" lengthAdjust="spacingAndGlyphs">Enriched with</text>
<text x="455.75" y="625.60" font-size="8.0" textLength="56.80" lengthAdjust="spacingAndGlyphs">MDM2 inhibitor</text><rect x="0.5" y="0.5" width="519" height="668.8" fill="none" stroke="#000" stroke-width="1.1"/></svg>
</body></html>
